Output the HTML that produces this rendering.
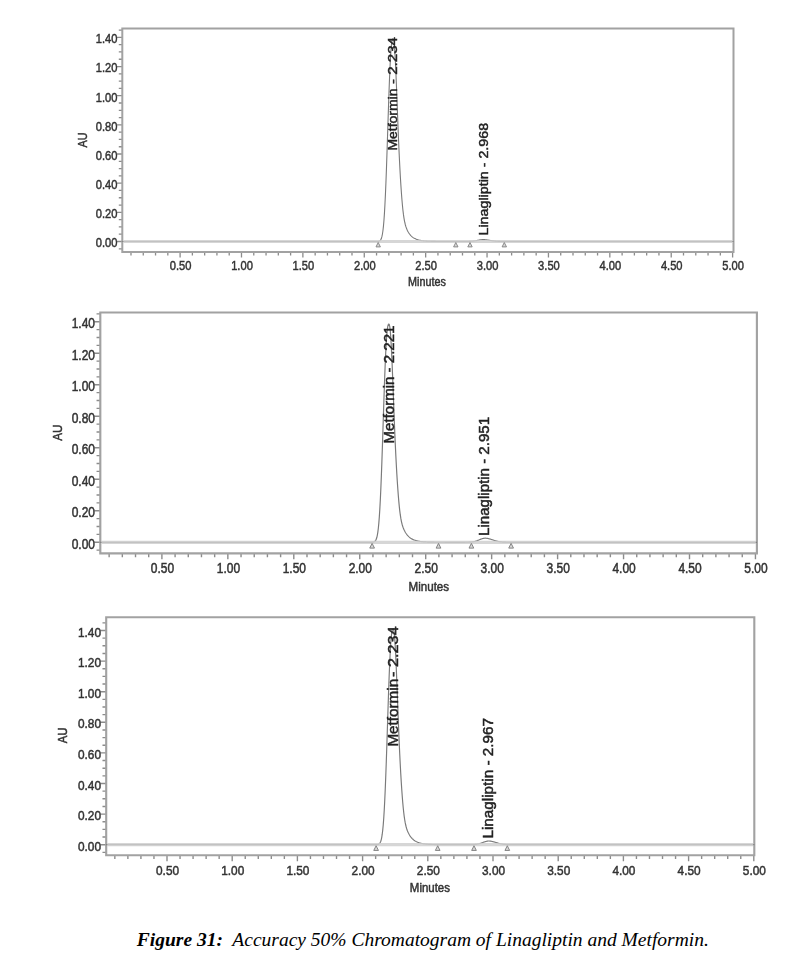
<!DOCTYPE html>
<html><head><meta charset="utf-8"><style>
html,body{margin:0;padding:0;background:#fff;}
svg{display:block;font-family:"Liberation Sans",sans-serif;filter:blur(0.6px);}
.cap{position:absolute;left:136.8px;top:928.5px;font-family:"Liberation Serif",serif;font-style:italic;font-size:19.5px;color:#000;white-space:pre;}
</style></head><body>
<svg width="793" height="965" viewBox="0 0 793 965">
<path d="M118.80 248.79H122.30M116.80 241.50H122.30M118.80 234.21H122.30M118.80 226.92H122.30M118.80 219.63H122.30M116.80 212.34H122.30M118.80 205.05H122.30M118.80 197.76H122.30M118.80 190.47H122.30M116.80 183.18H122.30M118.80 175.89H122.30M118.80 168.60H122.30M118.80 161.31H122.30M116.80 154.02H122.30M118.80 146.73H122.30M118.80 139.44H122.30M118.80 132.15H122.30M116.80 124.86H122.30M118.80 117.57H122.30M118.80 110.28H122.30M118.80 102.99H122.30M116.80 95.70H122.30M118.80 88.41H122.30M118.80 81.12H122.30M118.80 73.83H122.30M116.80 66.54H122.30M118.80 59.25H122.30M118.80 51.96H122.30M118.80 44.67H122.30M116.80 37.38H122.30M118.80 30.09H122.30M130.99 252.00V255.50M143.27 252.00V255.50M155.54 252.00V255.50M167.82 252.00V255.50M180.10 252.00V257.50M192.38 252.00V255.50M204.66 252.00V255.50M216.93 252.00V255.50M229.21 252.00V255.50M241.49 252.00V257.50M253.77 252.00V255.50M266.05 252.00V255.50M278.32 252.00V255.50M290.60 252.00V255.50M302.88 252.00V257.50M315.16 252.00V255.50M327.44 252.00V255.50M339.71 252.00V255.50M351.99 252.00V255.50M364.27 252.00V257.50M376.55 252.00V255.50M388.83 252.00V255.50M401.10 252.00V255.50M413.38 252.00V255.50M425.66 252.00V257.50M437.94 252.00V255.50M450.22 252.00V255.50M462.49 252.00V255.50M474.77 252.00V255.50M487.05 252.00V257.50M499.33 252.00V255.50M511.61 252.00V255.50M523.88 252.00V255.50M536.16 252.00V255.50M548.44 252.00V257.50M560.72 252.00V255.50M573.00 252.00V255.50M585.27 252.00V255.50M597.55 252.00V255.50M609.83 252.00V257.50M622.11 252.00V255.50M634.39 252.00V255.50M646.66 252.00V255.50M658.94 252.00V255.50M671.22 252.00V257.50M683.50 252.00V255.50M695.78 252.00V255.50M708.05 252.00V255.50M720.33 252.00V255.50M732.61 252.00V257.50" stroke="#8c8c8c" stroke-width="1.30" fill="none"/>
<path d="M122.30 252.00V28.40H733.50V252.00Z" fill="none" stroke="#a2a2a2" stroke-width="2.00"/>
<g font-size="11.50" fill="#333" stroke="#333" stroke-width="0.42"><text transform="translate(117.40,247.30) scale(0.97,1.12)" text-anchor="end">0.00</text><text transform="translate(117.40,218.14) scale(0.97,1.12)" text-anchor="end">0.20</text><text transform="translate(117.40,188.98) scale(0.97,1.12)" text-anchor="end">0.40</text><text transform="translate(117.40,159.82) scale(0.97,1.12)" text-anchor="end">0.60</text><text transform="translate(117.40,130.66) scale(0.97,1.12)" text-anchor="end">0.80</text><text transform="translate(117.40,101.50) scale(0.97,1.12)" text-anchor="end">1.00</text><text transform="translate(117.40,72.34) scale(0.97,1.12)" text-anchor="end">1.20</text><text transform="translate(117.40,43.18) scale(0.97,1.12)" text-anchor="end">1.40</text><text transform="translate(180.60,270.20) scale(0.97,1.12)" text-anchor="middle">0.50</text><text transform="translate(241.99,270.20) scale(0.97,1.12)" text-anchor="middle">1.00</text><text transform="translate(303.38,270.20) scale(0.97,1.12)" text-anchor="middle">1.50</text><text transform="translate(364.77,270.20) scale(0.97,1.12)" text-anchor="middle">2.00</text><text transform="translate(426.16,270.20) scale(0.97,1.12)" text-anchor="middle">2.50</text><text transform="translate(487.55,270.20) scale(0.97,1.12)" text-anchor="middle">3.00</text><text transform="translate(548.94,270.20) scale(0.97,1.12)" text-anchor="middle">3.50</text><text transform="translate(610.33,270.20) scale(0.97,1.12)" text-anchor="middle">4.00</text><text transform="translate(671.72,270.20) scale(0.97,1.12)" text-anchor="middle">4.50</text><text transform="translate(733.11,270.20) scale(0.97,1.12)" text-anchor="middle">5.00</text><text transform="translate(86.60,140.00) rotate(-90) scale(1,1.12)" text-anchor="middle" font-size="10.80">AU</text><text transform="translate(427.00,286.40) scale(1,1.12)" text-anchor="middle" font-size="10.80">Minutes</text></g>
<path d="M122.3 241.50 L122.8 241.50 L123.3 241.50 L123.8 241.50 L124.3 241.50 L124.8 241.50 L125.3 241.50 L125.8 241.50 L126.3 241.50 L126.8 241.50 L127.3 241.50 L127.8 241.50 L128.3 241.50 L128.8 241.50 L129.3 241.50 L129.8 241.50 L130.3 241.50 L130.8 241.50 L131.3 241.50 L131.8 241.50 L132.3 241.50 L132.8 241.50 L133.3 241.50 L133.8 241.50 L134.3 241.50 L134.8 241.50 L135.3 241.50 L135.8 241.50 L136.3 241.50 L136.8 241.50 L137.3 241.50 L137.8 241.50 L138.3 241.50 L138.8 241.50 L139.3 241.50 L139.8 241.50 L140.3 241.50 L140.8 241.50 L141.3 241.50 L141.8 241.50 L142.3 241.50 L142.8 241.50 L143.3 241.50 L143.8 241.50 L144.3 241.50 L144.8 241.50 L145.3 241.50 L145.8 241.50 L146.3 241.50 L146.8 241.50 L147.3 241.50 L147.8 241.50 L148.3 241.50 L148.8 241.50 L149.3 241.50 L149.8 241.50 L150.3 241.50 L150.8 241.50 L151.3 241.50 L151.8 241.50 L152.3 241.50 L152.8 241.50 L153.3 241.50 L153.8 241.50 L154.3 241.50 L154.8 241.50 L155.3 241.50 L155.8 241.50 L156.3 241.50 L156.8 241.50 L157.3 241.50 L157.8 241.50 L158.3 241.50 L158.8 241.50 L159.3 241.50 L159.8 241.50 L160.3 241.50 L160.8 241.50 L161.3 241.50 L161.8 241.50 L162.3 241.50 L162.8 241.50 L163.3 241.50 L163.8 241.50 L164.3 241.50 L164.8 241.50 L165.3 241.50 L165.8 241.50 L166.3 241.50 L166.8 241.50 L167.3 241.50 L167.8 241.50 L168.3 241.50 L168.8 241.50 L169.3 241.50 L169.8 241.50 L170.3 241.50 L170.8 241.50 L171.3 241.50 L171.8 241.50 L172.3 241.50 L172.8 241.50 L173.3 241.50 L173.8 241.50 L174.3 241.50 L174.8 241.50 L175.3 241.50 L175.8 241.50 L176.3 241.50 L176.8 241.50 L177.3 241.50 L177.8 241.50 L178.3 241.50 L178.8 241.50 L179.3 241.50 L179.8 241.50 L180.3 241.50 L180.8 241.50 L181.3 241.50 L181.8 241.50 L182.3 241.50 L182.8 241.50 L183.3 241.50 L183.8 241.50 L184.3 241.50 L184.8 241.50 L185.3 241.50 L185.8 241.50 L186.3 241.50 L186.8 241.50 L187.3 241.50 L187.8 241.50 L188.3 241.50 L188.8 241.50 L189.3 241.50 L189.8 241.50 L190.3 241.50 L190.8 241.50 L191.3 241.50 L191.8 241.50 L192.3 241.50 L192.8 241.50 L193.3 241.50 L193.8 241.50 L194.3 241.50 L194.8 241.50 L195.3 241.50 L195.8 241.50 L196.3 241.50 L196.8 241.50 L197.3 241.50 L197.8 241.50 L198.3 241.50 L198.8 241.50 L199.3 241.50 L199.8 241.50 L200.3 241.50 L200.8 241.50 L201.3 241.50 L201.8 241.50 L202.3 241.50 L202.8 241.50 L203.3 241.50 L203.8 241.50 L204.3 241.50 L204.8 241.50 L205.3 241.50 L205.8 241.50 L206.3 241.50 L206.8 241.50 L207.3 241.50 L207.8 241.50 L208.3 241.50 L208.8 241.50 L209.3 241.50 L209.8 241.50 L210.3 241.50 L210.8 241.50 L211.3 241.50 L211.8 241.50 L212.3 241.50 L212.8 241.50 L213.3 241.50 L213.8 241.50 L214.3 241.50 L214.8 241.50 L215.3 241.50 L215.8 241.50 L216.3 241.50 L216.8 241.50 L217.3 241.50 L217.8 241.50 L218.3 241.50 L218.8 241.50 L219.3 241.50 L219.8 241.50 L220.3 241.50 L220.8 241.50 L221.3 241.50 L221.8 241.50 L222.3 241.50 L222.8 241.50 L223.3 241.50 L223.8 241.50 L224.3 241.50 L224.8 241.50 L225.3 241.50 L225.8 241.50 L226.3 241.50 L226.8 241.50 L227.3 241.50 L227.8 241.50 L228.3 241.50 L228.8 241.50 L229.3 241.50 L229.8 241.50 L230.3 241.50 L230.8 241.50 L231.3 241.50 L231.8 241.50 L232.3 241.50 L232.8 241.50 L233.3 241.50 L233.8 241.50 L234.3 241.50 L234.8 241.50 L235.3 241.50 L235.8 241.50 L236.3 241.50 L236.8 241.50 L237.3 241.50 L237.8 241.50 L238.3 241.50 L238.8 241.50 L239.3 241.50 L239.8 241.50 L240.3 241.50 L240.8 241.50 L241.3 241.50 L241.8 241.50 L242.3 241.50 L242.8 241.50 L243.3 241.50 L243.8 241.50 L244.3 241.50 L244.8 241.50 L245.3 241.50 L245.8 241.50 L246.3 241.50 L246.8 241.50 L247.3 241.50 L247.8 241.50 L248.3 241.50 L248.8 241.50 L249.3 241.50 L249.8 241.50 L250.3 241.50 L250.8 241.50 L251.3 241.50 L251.8 241.50 L252.3 241.50 L252.8 241.50 L253.3 241.50 L253.8 241.50 L254.3 241.50 L254.8 241.50 L255.3 241.50 L255.8 241.50 L256.3 241.50 L256.8 241.50 L257.3 241.50 L257.8 241.50 L258.3 241.50 L258.8 241.50 L259.3 241.50 L259.8 241.50 L260.3 241.50 L260.8 241.50 L261.3 241.50 L261.8 241.50 L262.3 241.50 L262.8 241.50 L263.3 241.50 L263.8 241.50 L264.3 241.50 L264.8 241.50 L265.3 241.50 L265.8 241.50 L266.3 241.50 L266.8 241.50 L267.3 241.50 L267.8 241.50 L268.3 241.50 L268.8 241.50 L269.3 241.50 L269.8 241.50 L270.3 241.50 L270.8 241.50 L271.3 241.50 L271.8 241.50 L272.3 241.50 L272.8 241.50 L273.3 241.50 L273.8 241.50 L274.3 241.50 L274.8 241.50 L275.4 241.50 L275.9 241.50 L276.4 241.50 L276.9 241.50 L277.4 241.50 L277.9 241.50 L278.4 241.50 L278.9 241.50 L279.4 241.50 L279.9 241.50 L280.4 241.50 L280.9 241.50 L281.4 241.50 L281.9 241.50 L282.4 241.50 L282.9 241.50 L283.4 241.50 L283.9 241.50 L284.4 241.50 L284.9 241.50 L285.4 241.50 L285.9 241.50 L286.4 241.50 L286.9 241.50 L287.4 241.50 L287.9 241.50 L288.4 241.50 L288.9 241.50 L289.4 241.50 L289.9 241.50 L290.4 241.50 L290.9 241.50 L291.4 241.50 L291.9 241.50 L292.4 241.50 L292.9 241.50 L293.4 241.50 L293.9 241.50 L294.4 241.50 L294.9 241.50 L295.4 241.50 L295.9 241.50 L296.4 241.50 L296.9 241.50 L297.4 241.50 L297.9 241.50 L298.4 241.50 L298.9 241.50 L299.4 241.50 L299.9 241.50 L300.4 241.50 L300.9 241.50 L301.4 241.50 L301.9 241.50 L302.4 241.50 L302.9 241.50 L303.4 241.50 L303.9 241.50 L304.4 241.50 L304.9 241.50 L305.4 241.50 L305.9 241.50 L306.4 241.50 L306.9 241.50 L307.4 241.50 L307.9 241.50 L308.4 241.50 L308.9 241.50 L309.4 241.50 L309.9 241.50 L310.4 241.50 L310.9 241.50 L311.4 241.50 L311.9 241.50 L312.4 241.50 L312.9 241.50 L313.4 241.50 L313.9 241.50 L314.4 241.50 L314.9 241.50 L315.4 241.50 L315.9 241.50 L316.4 241.50 L316.9 241.50 L317.4 241.50 L317.9 241.50 L318.4 241.50 L318.9 241.50 L319.4 241.50 L319.9 241.50 L320.4 241.50 L320.9 241.50 L321.4 241.50 L321.9 241.50 L322.4 241.50 L322.9 241.50 L323.4 241.50 L323.9 241.50 L324.4 241.50 L324.9 241.50 L325.4 241.50 L325.9 241.50 L326.4 241.50 L326.9 241.50 L327.4 241.50 L327.9 241.50 L328.4 241.50 L328.9 241.50 L329.4 241.50 L329.9 241.50 L330.4 241.50 L330.9 241.50 L331.4 241.50 L331.9 241.50 L332.4 241.50 L332.9 241.50 L333.4 241.50 L333.9 241.50 L334.4 241.50 L334.9 241.50 L335.4 241.50 L335.9 241.50 L336.4 241.50 L336.9 241.50 L337.4 241.50 L337.9 241.50 L338.4 241.50 L338.9 241.50 L339.4 241.50 L339.9 241.50 L340.4 241.50 L340.9 241.50 L341.4 241.50 L341.9 241.50 L342.4 241.50 L342.9 241.50 L343.4 241.50 L343.9 241.50 L344.4 241.50 L344.9 241.50 L345.4 241.50 L345.9 241.50 L346.4 241.50 L346.9 241.50 L347.4 241.50 L347.9 241.50 L348.4 241.50 L348.9 241.50 L349.4 241.50 L349.9 241.50 L350.4 241.50 L350.9 241.50 L351.4 241.50 L351.9 241.50 L352.4 241.50 L352.9 241.50 L353.4 241.50 L353.9 241.50 L354.4 241.50 L354.9 241.50 L355.4 241.50 L355.9 241.50 L356.4 241.50 L356.9 241.50 L357.4 241.50 L357.9 241.50 L358.4 241.50 L358.9 241.50 L359.4 241.50 L359.9 241.50 L360.4 241.50 L360.9 241.50 L361.4 241.50 L361.9 241.50 L362.4 241.50 L362.9 241.50 L363.4 241.50 L363.9 241.50 L364.4 241.50 L364.9 241.50 L365.4 241.50 L365.9 241.50 L366.4 241.50 L366.9 241.50 L367.4 241.50 L367.9 241.50 L368.4 241.50 L368.9 241.50 L369.4 241.50 L369.9 241.50 L370.4 241.50 L370.9 241.50 L371.4 241.50 L371.9 241.50 L372.4 241.50 L372.9 241.50 L373.4 241.50 L373.9 241.50 L374.4 241.50 L374.9 241.50 L375.4 241.50 L375.9 241.50 L376.4 241.49 L376.9 241.48 L377.4 241.46 L377.9 241.43 L378.4 241.37 L378.9 241.26 L379.4 241.07 L379.9 240.76 L380.4 240.26 L380.9 239.49 L381.4 238.34 L381.9 236.65 L382.4 234.27 L382.9 231.00 L383.4 226.64 L383.9 221.00 L384.4 213.91 L384.9 205.25 L385.4 194.99 L385.9 183.16 L386.4 169.93 L386.9 155.55 L387.4 140.39 L387.9 124.89 L388.4 109.54 L388.9 94.86 L389.4 81.31 L389.9 69.32 L390.4 59.21 L390.9 51.18 L391.4 45.28 L391.9 41.45 L392.4 39.44 L392.9 38.85 L393.4 39.24 L393.9 41.45 L394.4 45.94 L394.9 52.76 L395.4 61.73 L395.9 72.53 L396.4 84.68 L396.9 97.65 L397.4 110.92 L397.9 123.98 L398.4 136.47 L398.9 148.12 L399.4 158.82 L399.9 168.57 L400.4 177.41 L400.9 185.44 L401.4 192.70 L401.9 199.21 L402.4 204.96 L402.9 209.94 L403.4 214.17 L403.9 217.69 L404.4 220.60 L404.9 222.99 L405.4 224.98 L405.9 226.66 L406.4 228.09 L406.9 229.33 L407.4 230.43 L407.9 231.40 L408.4 232.28 L408.9 233.08 L409.4 233.80 L409.9 234.46 L410.4 235.06 L410.9 235.61 L411.4 236.11 L411.9 236.57 L412.4 236.99 L412.9 237.37 L413.4 237.72 L413.9 238.04 L414.4 238.34 L414.9 238.61 L415.4 238.85 L415.9 239.08 L416.4 239.28 L416.9 239.47 L417.4 239.65 L417.9 239.80 L418.4 239.95 L418.9 240.08 L419.4 240.20 L419.9 240.31 L420.4 240.41 L420.9 240.51 L421.4 240.59 L421.9 240.67 L422.4 240.74 L422.9 240.80 L423.4 240.86 L423.9 240.92 L424.4 240.97 L424.9 241.01 L425.4 241.05 L425.9 241.09 L426.4 241.13 L426.9 241.16 L427.4 241.19 L427.9 241.21 L428.4 241.24 L428.9 241.26 L429.4 241.28 L429.9 241.30 L430.4 241.32 L430.9 241.33 L431.4 241.35 L431.9 241.36 L432.4 241.37 L432.9 241.38 L433.4 241.39 L433.9 241.40 L434.4 241.41 L434.9 241.42 L435.4 241.42 L435.9 241.43 L436.4 241.44 L436.9 241.44 L437.4 241.45 L437.9 241.45 L438.4 241.46 L438.9 241.46 L439.4 241.46 L439.9 241.47 L440.4 241.47 L440.9 241.47 L441.4 241.47 L441.9 241.48 L442.4 241.48 L442.9 241.48 L443.4 241.48 L443.9 241.48 L444.4 241.48 L444.9 241.49 L445.4 241.49 L445.9 241.49 L446.4 241.49 L446.9 241.49 L447.4 241.49 L447.9 241.49 L448.4 241.49 L448.9 241.49 L449.4 241.49 L449.9 241.49 L450.4 241.49 L450.9 241.50 L451.4 241.50 L451.9 241.50 L452.4 241.50 L452.9 241.50 L453.4 241.50 L453.9 241.50 L454.4 241.50 L454.9 241.50 L455.4 241.50 L455.9 241.50 L456.4 241.50 L456.9 241.50 L457.4 241.50 L457.9 241.50 L458.4 241.50 L458.9 241.50 L459.4 241.50 L459.9 241.50 L460.4 241.50 L460.9 241.50 L461.4 241.50 L461.9 241.50 L462.4 241.50 L462.9 241.50 L463.4 241.50 L463.9 241.50 L464.4 241.49 L464.9 241.49 L465.4 241.49 L465.9 241.48 L466.4 241.48 L466.9 241.47 L467.4 241.47 L467.9 241.46 L468.4 241.44 L468.9 241.43 L469.4 241.41 L469.9 241.39 L470.4 241.37 L470.9 241.33 L471.4 241.30 L471.9 241.26 L472.4 241.21 L472.9 241.16 L473.4 241.09 L473.9 241.03 L474.4 240.95 L474.9 240.87 L475.4 240.78 L475.9 240.69 L476.4 240.59 L476.9 240.49 L477.4 240.39 L477.9 240.28 L478.4 240.18 L478.9 240.08 L479.4 239.99 L479.9 239.90 L480.4 239.82 L480.9 239.75 L481.4 239.69 L481.9 239.65 L482.4 239.62 L482.9 239.61 L483.4 239.61 L483.9 239.62 L484.4 239.64 L484.9 239.67 L485.4 239.71 L485.9 239.76 L486.4 239.82 L486.9 239.88 L487.4 239.95 L487.9 240.03 L488.4 240.11 L488.9 240.19 L489.4 240.27 L489.9 240.36 L490.4 240.44 L490.9 240.53 L491.4 240.61 L491.9 240.69 L492.4 240.77 L492.9 240.84 L493.4 240.91 L493.9 240.97 L494.4 241.03 L494.9 241.09 L495.4 241.14 L495.9 241.19 L496.4 241.23 L496.9 241.27 L497.4 241.30 L497.9 241.33 L498.4 241.35 L498.9 241.38 L499.4 241.40 L499.9 241.41 L500.4 241.43 L500.9 241.44 L501.4 241.45 L501.9 241.46 L502.4 241.47 L502.9 241.47 L503.4 241.48 L503.9 241.48 L504.4 241.49 L504.9 241.49 L505.4 241.49 L505.9 241.49 L506.4 241.50 L506.9 241.50 L507.4 241.50 L507.9 241.50 L508.4 241.50 L508.9 241.50 L509.4 241.50 L509.9 241.50 L510.4 241.50 L510.9 241.50 L511.4 241.50 L511.9 241.50 L512.4 241.50 L512.9 241.50 L513.4 241.50 L513.9 241.50 L514.4 241.50 L514.9 241.50 L515.4 241.50 L515.9 241.50 L516.4 241.50 L516.9 241.50 L517.4 241.50 L517.9 241.50 L518.4 241.50 L518.9 241.50 L519.4 241.50 L519.9 241.50 L520.4 241.50 L520.9 241.50 L521.4 241.50 L521.9 241.50 L522.4 241.50 L522.9 241.50 L523.4 241.50 L523.9 241.50 L524.4 241.50 L524.9 241.50 L525.4 241.50 L525.9 241.50 L526.4 241.50 L526.9 241.50 L527.4 241.50 L527.9 241.50 L528.4 241.50 L528.9 241.50 L529.4 241.50 L529.9 241.50 L530.4 241.50 L530.9 241.50 L531.4 241.50 L531.9 241.50 L532.4 241.50 L532.9 241.50 L533.4 241.50 L533.9 241.50 L534.4 241.50 L534.9 241.50 L535.4 241.50 L535.9 241.50 L536.4 241.50 L536.9 241.50 L537.4 241.50 L537.9 241.50 L538.4 241.50 L538.9 241.50 L539.4 241.50 L539.9 241.50 L540.4 241.50 L540.9 241.50 L541.4 241.50 L541.9 241.50 L542.4 241.50 L542.9 241.50 L543.4 241.50 L543.9 241.50 L544.4 241.50 L544.9 241.50 L545.4 241.50 L545.9 241.50 L546.4 241.50 L546.9 241.50 L547.4 241.50 L547.9 241.50 L548.4 241.50 L548.9 241.50 L549.4 241.50 L549.9 241.50 L550.4 241.50 L550.9 241.50 L551.4 241.50 L551.9 241.50 L552.4 241.50 L552.9 241.50 L553.4 241.50 L553.9 241.50 L554.4 241.50 L554.9 241.50 L555.4 241.50 L555.9 241.50 L556.4 241.50 L556.9 241.50 L557.4 241.50 L557.9 241.50 L558.4 241.50 L558.9 241.50 L559.4 241.50 L559.9 241.50 L560.4 241.50 L560.9 241.50 L561.4 241.50 L561.9 241.50 L562.4 241.50 L562.9 241.50 L563.4 241.50 L563.9 241.50 L564.4 241.50 L564.9 241.50 L565.4 241.50 L565.9 241.50 L566.4 241.50 L566.9 241.50 L567.4 241.50 L567.9 241.50 L568.4 241.50 L568.9 241.50 L569.4 241.50 L569.9 241.50 L570.4 241.50 L570.9 241.50 L571.4 241.50 L571.9 241.50 L572.4 241.50 L572.9 241.50 L573.4 241.50 L573.9 241.50 L574.4 241.50 L574.9 241.50 L575.4 241.50 L575.9 241.50 L576.4 241.50 L576.9 241.50 L577.4 241.50 L577.9 241.50 L578.4 241.50 L578.9 241.50 L579.4 241.50 L579.9 241.50 L580.4 241.50 L581.0 241.50 L581.5 241.50 L582.0 241.50 L582.5 241.50 L583.0 241.50 L583.5 241.50 L584.0 241.50 L584.5 241.50 L585.0 241.50 L585.5 241.50 L586.0 241.50 L586.5 241.50 L587.0 241.50 L587.5 241.50 L588.0 241.50 L588.5 241.50 L589.0 241.50 L589.5 241.50 L590.0 241.50 L590.5 241.50 L591.0 241.50 L591.5 241.50 L592.0 241.50 L592.5 241.50 L593.0 241.50 L593.5 241.50 L594.0 241.50 L594.5 241.50 L595.0 241.50 L595.5 241.50 L596.0 241.50 L596.5 241.50 L597.0 241.50 L597.5 241.50 L598.0 241.50 L598.5 241.50 L599.0 241.50 L599.5 241.50 L600.0 241.50 L600.5 241.50 L601.0 241.50 L601.5 241.50 L602.0 241.50 L602.5 241.50 L603.0 241.50 L603.5 241.50 L604.0 241.50 L604.5 241.50 L605.0 241.50 L605.5 241.50 L606.0 241.50 L606.5 241.50 L607.0 241.50 L607.5 241.50 L608.0 241.50 L608.5 241.50 L609.0 241.50 L609.5 241.50 L610.0 241.50 L610.5 241.50 L611.0 241.50 L611.5 241.50 L612.0 241.50 L612.5 241.50 L613.0 241.50 L613.5 241.50 L614.0 241.50 L614.5 241.50 L615.0 241.50 L615.5 241.50 L616.0 241.50 L616.5 241.50 L617.0 241.50 L617.5 241.50 L618.0 241.50 L618.5 241.50 L619.0 241.50 L619.5 241.50 L620.0 241.50 L620.5 241.50 L621.0 241.50 L621.5 241.50 L622.0 241.50 L622.5 241.50 L623.0 241.50 L623.5 241.50 L624.0 241.50 L624.5 241.50 L625.0 241.50 L625.5 241.50 L626.0 241.50 L626.5 241.50 L627.0 241.50 L627.5 241.50 L628.0 241.50 L628.5 241.50 L629.0 241.50 L629.5 241.50 L630.0 241.50 L630.5 241.50 L631.0 241.50 L631.5 241.50 L632.0 241.50 L632.5 241.50 L633.0 241.50 L633.5 241.50 L634.0 241.50 L634.5 241.50 L635.0 241.50 L635.5 241.50 L636.0 241.50 L636.5 241.50 L637.0 241.50 L637.5 241.50 L638.0 241.50 L638.5 241.50 L639.0 241.50 L639.5 241.50 L640.0 241.50 L640.5 241.50 L641.0 241.50 L641.5 241.50 L642.0 241.50 L642.5 241.50 L643.0 241.50 L643.5 241.50 L644.0 241.50 L644.5 241.50 L645.0 241.50 L645.5 241.50 L646.0 241.50 L646.5 241.50 L647.0 241.50 L647.5 241.50 L648.0 241.50 L648.5 241.50 L649.0 241.50 L649.5 241.50 L650.0 241.50 L650.5 241.50 L651.0 241.50 L651.5 241.50 L652.0 241.50 L652.5 241.50 L653.0 241.50 L653.5 241.50 L654.0 241.50 L654.5 241.50 L655.0 241.50 L655.5 241.50 L656.0 241.50 L656.5 241.50 L657.0 241.50 L657.5 241.50 L658.0 241.50 L658.5 241.50 L659.0 241.50 L659.5 241.50 L660.0 241.50 L660.5 241.50 L661.0 241.50 L661.5 241.50 L662.0 241.50 L662.5 241.50 L663.0 241.50 L663.5 241.50 L664.0 241.50 L664.5 241.50 L665.0 241.50 L665.5 241.50 L666.0 241.50 L666.5 241.50 L667.0 241.50 L667.5 241.50 L668.0 241.50 L668.5 241.50 L669.0 241.50 L669.5 241.50 L670.0 241.50 L670.5 241.50 L671.0 241.50 L671.5 241.50 L672.0 241.50 L672.5 241.50 L673.0 241.50 L673.5 241.50 L674.0 241.50 L674.5 241.50 L675.0 241.50 L675.5 241.50 L676.0 241.50 L676.5 241.50 L677.0 241.50 L677.5 241.50 L678.0 241.50 L678.5 241.50 L679.0 241.50 L679.5 241.50 L680.0 241.50 L680.5 241.50 L681.0 241.50 L681.5 241.50 L682.0 241.50 L682.5 241.50 L683.0 241.50 L683.5 241.50 L684.0 241.50 L684.5 241.50 L685.0 241.50 L685.5 241.50 L686.0 241.50 L686.5 241.50 L687.0 241.50 L687.5 241.50 L688.0 241.50 L688.5 241.50 L689.0 241.50 L689.5 241.50 L690.0 241.50 L690.5 241.50 L691.0 241.50 L691.5 241.50 L692.0 241.50 L692.5 241.50 L693.0 241.50 L693.5 241.50 L694.0 241.50 L694.5 241.50 L695.0 241.50 L695.5 241.50 L696.0 241.50 L696.5 241.50 L697.0 241.50 L697.5 241.50 L698.0 241.50 L698.5 241.50 L699.0 241.50 L699.5 241.50 L700.0 241.50 L700.5 241.50 L701.0 241.50 L701.5 241.50 L702.0 241.50 L702.5 241.50 L703.0 241.50 L703.5 241.50 L704.0 241.50 L704.5 241.50 L705.0 241.50 L705.5 241.50 L706.0 241.50 L706.5 241.50 L707.0 241.50 L707.5 241.50 L708.0 241.50 L708.5 241.50 L709.0 241.50 L709.5 241.50 L710.0 241.50 L710.5 241.50 L711.0 241.50 L711.5 241.50 L712.0 241.50 L712.5 241.50 L713.0 241.50 L713.5 241.50 L714.0 241.50 L714.5 241.50 L715.0 241.50 L715.5 241.50 L716.0 241.50 L716.5 241.50 L717.0 241.50 L717.5 241.50 L718.0 241.50 L718.5 241.50 L719.0 241.50 L719.5 241.50 L720.0 241.50 L720.5 241.50 L721.0 241.50 L721.5 241.50 L722.0 241.50 L722.5 241.50 L723.0 241.50 L723.5 241.50 L724.0 241.50 L724.5 241.50 L725.0 241.50 L725.5 241.50 L726.0 241.50 L726.5 241.50 L727.0 241.50 L727.5 241.50 L728.0 241.50 L728.5 241.50 L729.0 241.50 L729.5 241.50 L730.0 241.50 L730.5 241.50 L731.0 241.50 L731.5 241.50 L732.0 241.50 L732.5 241.50 L733.0 241.50 L733.5 241.50" fill="none" stroke="#7a7a7a" stroke-width="1.10"/>
<path d="M123.30 241.50H732.50" stroke="#cfcfcf" stroke-width="3.00" stroke-opacity="0.85"/>
<path d="M378.20 242.50L376.00 246.90H380.40Z" fill="#d8d8d8" stroke="#808080" stroke-width="0.90" stroke-linejoin="round"/>
<path d="M455.80 242.50L453.60 246.90H458.00Z" fill="#d8d8d8" stroke="#808080" stroke-width="0.90" stroke-linejoin="round"/>
<path d="M470.00 242.50L467.80 246.90H472.20Z" fill="#d8d8d8" stroke="#808080" stroke-width="0.90" stroke-linejoin="round"/>
<path d="M504.30 242.50L502.10 246.90H506.50Z" fill="#d8d8d8" stroke="#808080" stroke-width="0.90" stroke-linejoin="round"/>
<text transform="translate(397.45,150.60) rotate(-90)" font-size="13.30" textLength="62.00" lengthAdjust="spacingAndGlyphs" fill="#222" stroke="#222" stroke-width="0.45">Metformin</text>
<text transform="translate(397.45,84.00) rotate(-90)" font-size="13.30" textLength="47.00" lengthAdjust="spacingAndGlyphs" fill="#222" stroke="#222" stroke-width="0.45">- 2.234</text>
<text transform="translate(487.55,235.50) rotate(-90)" font-size="13.30" textLength="112.60" lengthAdjust="spacingAndGlyphs" fill="#222" stroke="#222" stroke-width="0.45">Linagliptin - 2.968</text>
<path d="M96.54 550.17H100.30M94.39 542.30H100.30M96.54 534.42H100.30M96.54 526.55H100.30M96.54 518.67H100.30M94.39 510.80H100.30M96.54 502.92H100.30M96.54 495.05H100.30M96.54 487.17H100.30M94.39 479.30H100.30M96.54 471.42H100.30M96.54 463.55H100.30M96.54 455.67H100.30M94.39 447.80H100.30M96.54 439.92H100.30M96.54 432.05H100.30M96.54 424.17H100.30M94.39 416.30H100.30M96.54 408.42H100.30M96.54 400.55H100.30M96.54 392.67H100.30M94.39 384.80H100.30M96.54 376.92H100.30M96.54 369.05H100.30M96.54 361.17H100.30M94.39 353.30H100.30M96.54 345.42H100.30M96.54 337.55H100.30M96.54 329.67H100.30M94.39 321.80H100.30M96.54 313.92H100.30M109.14 553.40V557.16M122.33 553.40V557.16M135.52 553.40V557.16M148.71 553.40V557.16M161.90 553.40V559.31M175.09 553.40V557.16M188.28 553.40V557.16M201.47 553.40V557.16M214.66 553.40V557.16M227.85 553.40V559.31M241.04 553.40V557.16M254.23 553.40V557.16M267.42 553.40V557.16M280.61 553.40V557.16M293.80 553.40V559.31M306.99 553.40V557.16M320.18 553.40V557.16M333.37 553.40V557.16M346.56 553.40V557.16M359.75 553.40V559.31M372.94 553.40V557.16M386.13 553.40V557.16M399.32 553.40V557.16M412.51 553.40V557.16M425.70 553.40V559.31M438.89 553.40V557.16M452.08 553.40V557.16M465.27 553.40V557.16M478.46 553.40V557.16M491.65 553.40V559.31M504.84 553.40V557.16M518.03 553.40V557.16M531.22 553.40V557.16M544.41 553.40V557.16M557.60 553.40V559.31M570.79 553.40V557.16M583.98 553.40V557.16M597.17 553.40V557.16M610.36 553.40V557.16M623.55 553.40V559.31M636.74 553.40V557.16M649.93 553.40V557.16M663.12 553.40V557.16M676.31 553.40V557.16M689.50 553.40V559.31M702.69 553.40V557.16M715.88 553.40V557.16M729.07 553.40V557.16M742.26 553.40V557.16M755.45 553.40V559.31" stroke="#8c8c8c" stroke-width="1.40" fill="none"/>
<path d="M100.30 553.40V312.50H756.90V553.40Z" fill="none" stroke="#a2a2a2" stroke-width="2.15"/>
<g font-size="12.36" fill="#333" stroke="#333" stroke-width="0.45"><text transform="translate(95.03,548.53) scale(0.97,1.12)" text-anchor="end">0.00</text><text transform="translate(95.03,517.03) scale(0.97,1.12)" text-anchor="end">0.20</text><text transform="translate(95.03,485.53) scale(0.97,1.12)" text-anchor="end">0.40</text><text transform="translate(95.03,454.03) scale(0.97,1.12)" text-anchor="end">0.60</text><text transform="translate(95.03,422.53) scale(0.97,1.12)" text-anchor="end">0.80</text><text transform="translate(95.03,391.03) scale(0.97,1.12)" text-anchor="end">1.00</text><text transform="translate(95.03,359.53) scale(0.97,1.12)" text-anchor="end">1.20</text><text transform="translate(95.03,328.03) scale(0.97,1.12)" text-anchor="end">1.40</text><text transform="translate(162.44,572.96) scale(0.97,1.12)" text-anchor="middle">0.50</text><text transform="translate(228.39,572.96) scale(0.97,1.12)" text-anchor="middle">1.00</text><text transform="translate(294.34,572.96) scale(0.97,1.12)" text-anchor="middle">1.50</text><text transform="translate(360.29,572.96) scale(0.97,1.12)" text-anchor="middle">2.00</text><text transform="translate(426.24,572.96) scale(0.97,1.12)" text-anchor="middle">2.50</text><text transform="translate(492.19,572.96) scale(0.97,1.12)" text-anchor="middle">3.00</text><text transform="translate(558.14,572.96) scale(0.97,1.12)" text-anchor="middle">3.50</text><text transform="translate(624.09,572.96) scale(0.97,1.12)" text-anchor="middle">4.00</text><text transform="translate(690.04,572.96) scale(0.97,1.12)" text-anchor="middle">4.50</text><text transform="translate(755.99,572.96) scale(0.97,1.12)" text-anchor="middle">5.00</text><text transform="translate(62.07,432.60) rotate(-90) scale(1,1.12)" text-anchor="middle" font-size="11.61">AU</text><text transform="translate(428.80,591.19) scale(1,1.12)" text-anchor="middle" font-size="11.61">Minutes</text></g>
<path d="M100.3 542.30 L100.8 542.30 L101.3 542.30 L101.8 542.30 L102.3 542.30 L102.8 542.30 L103.3 542.30 L103.8 542.30 L104.3 542.30 L104.8 542.30 L105.3 542.30 L105.8 542.30 L106.3 542.30 L106.8 542.30 L107.3 542.30 L107.8 542.30 L108.3 542.30 L108.8 542.30 L109.3 542.30 L109.8 542.30 L110.3 542.30 L110.8 542.30 L111.3 542.30 L111.8 542.30 L112.3 542.30 L112.8 542.30 L113.3 542.30 L113.8 542.30 L114.3 542.30 L114.8 542.30 L115.3 542.30 L115.8 542.30 L116.3 542.30 L116.8 542.30 L117.3 542.30 L117.8 542.30 L118.3 542.30 L118.8 542.30 L119.3 542.30 L119.8 542.30 L120.3 542.30 L120.8 542.30 L121.3 542.30 L121.8 542.30 L122.3 542.30 L122.8 542.30 L123.3 542.30 L123.8 542.30 L124.3 542.30 L124.8 542.30 L125.3 542.30 L125.8 542.30 L126.3 542.30 L126.8 542.30 L127.3 542.30 L127.8 542.30 L128.3 542.30 L128.8 542.30 L129.3 542.30 L129.8 542.30 L130.3 542.30 L130.8 542.30 L131.3 542.30 L131.8 542.30 L132.3 542.30 L132.8 542.30 L133.3 542.30 L133.8 542.30 L134.3 542.30 L134.8 542.30 L135.3 542.30 L135.8 542.30 L136.3 542.30 L136.8 542.30 L137.3 542.30 L137.8 542.30 L138.3 542.30 L138.8 542.30 L139.3 542.30 L139.8 542.30 L140.3 542.30 L140.8 542.30 L141.3 542.30 L141.8 542.30 L142.3 542.30 L142.8 542.30 L143.3 542.30 L143.8 542.30 L144.3 542.30 L144.8 542.30 L145.3 542.30 L145.8 542.30 L146.3 542.30 L146.8 542.30 L147.3 542.30 L147.8 542.30 L148.3 542.30 L148.8 542.30 L149.3 542.30 L149.8 542.30 L150.3 542.30 L150.8 542.30 L151.3 542.30 L151.8 542.30 L152.3 542.30 L152.8 542.30 L153.3 542.30 L153.8 542.30 L154.3 542.30 L154.8 542.30 L155.3 542.30 L155.8 542.30 L156.3 542.30 L156.8 542.30 L157.3 542.30 L157.8 542.30 L158.3 542.30 L158.8 542.30 L159.3 542.30 L159.8 542.30 L160.3 542.30 L160.8 542.30 L161.3 542.30 L161.8 542.30 L162.3 542.30 L162.8 542.30 L163.3 542.30 L163.8 542.30 L164.3 542.30 L164.8 542.30 L165.3 542.30 L165.8 542.30 L166.3 542.30 L166.8 542.30 L167.3 542.30 L167.8 542.30 L168.3 542.30 L168.8 542.30 L169.3 542.30 L169.8 542.30 L170.3 542.30 L170.8 542.30 L171.3 542.30 L171.8 542.30 L172.3 542.30 L172.8 542.30 L173.3 542.30 L173.8 542.30 L174.3 542.30 L174.8 542.30 L175.3 542.30 L175.8 542.30 L176.3 542.30 L176.8 542.30 L177.3 542.30 L177.8 542.30 L178.3 542.30 L178.8 542.30 L179.3 542.30 L179.8 542.30 L180.3 542.30 L180.8 542.30 L181.3 542.30 L181.8 542.30 L182.3 542.30 L182.8 542.30 L183.3 542.30 L183.8 542.30 L184.3 542.30 L184.8 542.30 L185.3 542.30 L185.8 542.30 L186.3 542.30 L186.8 542.30 L187.3 542.30 L187.8 542.30 L188.3 542.30 L188.8 542.30 L189.3 542.30 L189.8 542.30 L190.3 542.30 L190.8 542.30 L191.3 542.30 L191.8 542.30 L192.3 542.30 L192.8 542.30 L193.3 542.30 L193.8 542.30 L194.3 542.30 L194.8 542.30 L195.3 542.30 L195.8 542.30 L196.3 542.30 L196.8 542.30 L197.3 542.30 L197.8 542.30 L198.3 542.30 L198.8 542.30 L199.3 542.30 L199.8 542.30 L200.3 542.30 L200.8 542.30 L201.3 542.30 L201.8 542.30 L202.3 542.30 L202.8 542.30 L203.3 542.30 L203.8 542.30 L204.3 542.30 L204.8 542.30 L205.3 542.30 L205.8 542.30 L206.3 542.30 L206.8 542.30 L207.3 542.30 L207.8 542.30 L208.3 542.30 L208.8 542.30 L209.3 542.30 L209.8 542.30 L210.3 542.30 L210.8 542.30 L211.3 542.30 L211.8 542.30 L212.3 542.30 L212.8 542.30 L213.3 542.30 L213.8 542.30 L214.3 542.30 L214.8 542.30 L215.3 542.30 L215.8 542.30 L216.3 542.30 L216.8 542.30 L217.3 542.30 L217.8 542.30 L218.3 542.30 L218.8 542.30 L219.3 542.30 L219.8 542.30 L220.3 542.30 L220.8 542.30 L221.3 542.30 L221.8 542.30 L222.3 542.30 L222.8 542.30 L223.3 542.30 L223.8 542.30 L224.3 542.30 L224.8 542.30 L225.3 542.30 L225.8 542.30 L226.3 542.30 L226.8 542.30 L227.3 542.30 L227.8 542.30 L228.3 542.30 L228.8 542.30 L229.3 542.30 L229.8 542.30 L230.3 542.30 L230.8 542.30 L231.3 542.30 L231.8 542.30 L232.3 542.30 L232.8 542.30 L233.3 542.30 L233.8 542.30 L234.3 542.30 L234.8 542.30 L235.3 542.30 L235.8 542.30 L236.3 542.30 L236.8 542.30 L237.3 542.30 L237.8 542.30 L238.3 542.30 L238.8 542.30 L239.3 542.30 L239.8 542.30 L240.3 542.30 L240.8 542.30 L241.3 542.30 L241.8 542.30 L242.3 542.30 L242.8 542.30 L243.3 542.30 L243.8 542.30 L244.3 542.30 L244.8 542.30 L245.3 542.30 L245.8 542.30 L246.3 542.30 L246.8 542.30 L247.3 542.30 L247.8 542.30 L248.3 542.30 L248.8 542.30 L249.3 542.30 L249.8 542.30 L250.3 542.30 L250.8 542.30 L251.3 542.30 L251.8 542.30 L252.3 542.30 L252.8 542.30 L253.3 542.30 L253.8 542.30 L254.3 542.30 L254.8 542.30 L255.3 542.30 L255.8 542.30 L256.3 542.30 L256.8 542.30 L257.3 542.30 L257.8 542.30 L258.3 542.30 L258.8 542.30 L259.3 542.30 L259.8 542.30 L260.3 542.30 L260.8 542.30 L261.3 542.30 L261.8 542.30 L262.3 542.30 L262.8 542.30 L263.3 542.30 L263.8 542.30 L264.3 542.30 L264.8 542.30 L265.3 542.30 L265.8 542.30 L266.3 542.30 L266.8 542.30 L267.3 542.30 L267.8 542.30 L268.3 542.30 L268.8 542.30 L269.3 542.30 L269.8 542.30 L270.3 542.30 L270.8 542.30 L271.3 542.30 L271.8 542.30 L272.3 542.30 L272.8 542.30 L273.3 542.30 L273.8 542.30 L274.3 542.30 L274.8 542.30 L275.3 542.30 L275.8 542.30 L276.3 542.30 L276.8 542.30 L277.3 542.30 L277.8 542.30 L278.3 542.30 L278.8 542.30 L279.3 542.30 L279.8 542.30 L280.3 542.30 L280.8 542.30 L281.3 542.30 L281.8 542.30 L282.3 542.30 L282.8 542.30 L283.3 542.30 L283.8 542.30 L284.3 542.30 L284.8 542.30 L285.3 542.30 L285.8 542.30 L286.3 542.30 L286.8 542.30 L287.3 542.30 L287.8 542.30 L288.3 542.30 L288.8 542.30 L289.3 542.30 L289.8 542.30 L290.3 542.30 L290.8 542.30 L291.3 542.30 L291.8 542.30 L292.3 542.30 L292.8 542.30 L293.3 542.30 L293.8 542.30 L294.3 542.30 L294.8 542.30 L295.3 542.30 L295.8 542.30 L296.3 542.30 L296.8 542.30 L297.3 542.30 L297.8 542.30 L298.3 542.30 L298.8 542.30 L299.3 542.30 L299.8 542.30 L300.3 542.30 L300.8 542.30 L301.3 542.30 L301.8 542.30 L302.3 542.30 L302.8 542.30 L303.3 542.30 L303.8 542.30 L304.3 542.30 L304.8 542.30 L305.3 542.30 L305.8 542.30 L306.3 542.30 L306.8 542.30 L307.3 542.30 L307.8 542.30 L308.3 542.30 L308.8 542.30 L309.3 542.30 L309.8 542.30 L310.3 542.30 L310.8 542.30 L311.3 542.30 L311.8 542.30 L312.3 542.30 L312.8 542.30 L313.3 542.30 L313.8 542.30 L314.3 542.30 L314.8 542.30 L315.3 542.30 L315.8 542.30 L316.3 542.30 L316.8 542.30 L317.3 542.30 L317.8 542.30 L318.3 542.30 L318.8 542.30 L319.3 542.30 L319.8 542.30 L320.3 542.30 L320.8 542.30 L321.3 542.30 L321.8 542.30 L322.3 542.30 L322.8 542.30 L323.3 542.30 L323.8 542.30 L324.3 542.30 L324.8 542.30 L325.3 542.30 L325.8 542.30 L326.3 542.30 L326.8 542.30 L327.3 542.30 L327.8 542.30 L328.3 542.30 L328.8 542.30 L329.3 542.30 L329.8 542.30 L330.3 542.30 L330.8 542.30 L331.3 542.30 L331.8 542.30 L332.3 542.30 L332.8 542.30 L333.3 542.30 L333.8 542.30 L334.3 542.30 L334.8 542.30 L335.3 542.30 L335.8 542.30 L336.3 542.30 L336.8 542.30 L337.3 542.30 L337.8 542.30 L338.3 542.30 L338.8 542.30 L339.3 542.30 L339.8 542.30 L340.3 542.30 L340.8 542.30 L341.3 542.30 L341.8 542.30 L342.3 542.30 L342.8 542.30 L343.3 542.30 L343.8 542.30 L344.3 542.30 L344.8 542.30 L345.3 542.30 L345.8 542.30 L346.3 542.30 L346.8 542.30 L347.3 542.30 L347.8 542.30 L348.3 542.30 L348.8 542.30 L349.3 542.30 L349.8 542.30 L350.3 542.30 L350.8 542.30 L351.3 542.30 L351.8 542.30 L352.3 542.30 L352.8 542.30 L353.3 542.30 L353.8 542.30 L354.3 542.30 L354.8 542.30 L355.3 542.30 L355.8 542.30 L356.3 542.30 L356.8 542.30 L357.3 542.30 L357.8 542.30 L358.3 542.30 L358.8 542.30 L359.3 542.30 L359.8 542.30 L360.3 542.30 L360.8 542.30 L361.3 542.30 L361.8 542.30 L362.3 542.30 L362.8 542.30 L363.3 542.30 L363.8 542.30 L364.3 542.30 L364.8 542.30 L365.3 542.30 L365.8 542.30 L366.3 542.30 L366.8 542.30 L367.3 542.30 L367.8 542.30 L368.3 542.30 L368.8 542.30 L369.3 542.30 L369.8 542.30 L370.3 542.30 L370.8 542.29 L371.3 542.29 L371.8 542.27 L372.3 542.25 L372.8 542.20 L373.3 542.13 L373.8 542.00 L374.3 541.80 L374.8 541.47 L375.3 540.97 L375.8 540.22 L376.3 539.11 L376.8 537.53 L377.3 535.34 L377.8 532.37 L378.3 528.45 L378.8 523.42 L379.3 517.10 L379.8 509.38 L380.3 500.17 L380.8 489.47 L381.3 477.33 L381.8 463.92 L382.3 449.46 L382.8 434.28 L383.3 418.76 L383.8 403.32 L384.3 388.42 L384.8 374.47 L385.3 361.85 L385.8 350.88 L386.3 341.77 L386.8 334.65 L387.3 329.51 L387.8 326.24 L388.3 324.59 L388.8 324.16 L389.3 324.66 L389.8 326.91 L390.3 331.28 L390.8 337.83 L391.3 346.43 L391.8 356.81 L392.3 368.59 L392.8 381.32 L393.3 394.55 L393.8 407.80 L394.3 420.70 L394.8 432.96 L395.3 444.40 L395.8 454.94 L396.3 464.59 L396.8 473.42 L397.3 481.47 L397.8 488.82 L398.3 495.46 L398.8 501.40 L399.3 506.63 L399.8 511.13 L400.3 514.96 L400.8 518.18 L401.3 520.86 L401.8 523.10 L402.3 525.00 L402.8 526.62 L403.3 528.02 L403.8 529.25 L404.3 530.35 L404.8 531.33 L405.3 532.23 L405.8 533.04 L406.3 533.78 L406.8 534.46 L407.3 535.09 L407.8 535.66 L408.3 536.19 L408.8 536.67 L409.3 537.12 L409.8 537.53 L410.3 537.91 L410.8 538.26 L411.3 538.58 L411.8 538.88 L412.3 539.15 L412.8 539.40 L413.3 539.63 L413.8 539.84 L414.3 540.04 L414.8 540.22 L415.3 540.38 L415.8 540.53 L416.3 540.67 L416.8 540.80 L417.3 540.92 L417.8 541.03 L418.3 541.13 L418.8 541.23 L419.3 541.31 L419.8 541.39 L420.3 541.46 L420.8 541.53 L421.3 541.59 L421.8 541.65 L422.3 541.70 L422.8 541.75 L423.3 541.79 L423.8 541.83 L424.3 541.87 L424.8 541.90 L425.3 541.93 L425.8 541.96 L426.3 541.99 L426.8 542.01 L427.3 542.04 L427.8 542.06 L428.3 542.08 L428.9 542.09 L429.4 542.11 L429.9 542.13 L430.4 542.14 L430.9 542.15 L431.4 542.16 L431.9 542.18 L432.4 542.19 L432.9 542.19 L433.4 542.20 L433.9 542.21 L434.4 542.22 L434.9 542.22 L435.4 542.23 L435.9 542.24 L436.4 542.24 L436.9 542.25 L437.4 542.25 L437.9 542.25 L438.4 542.26 L438.9 542.26 L439.4 542.26 L439.9 542.27 L440.4 542.27 L440.9 542.27 L441.4 542.27 L441.9 542.28 L442.4 542.28 L442.9 542.28 L443.4 542.28 L443.9 542.28 L444.4 542.28 L444.9 542.29 L445.4 542.29 L445.9 542.29 L446.4 542.29 L446.9 542.29 L447.4 542.29 L447.9 542.29 L448.4 542.29 L448.9 542.29 L449.4 542.29 L449.9 542.29 L450.4 542.29 L450.9 542.29 L451.4 542.30 L451.9 542.30 L452.4 542.30 L452.9 542.30 L453.4 542.30 L453.9 542.30 L454.4 542.30 L454.9 542.30 L455.4 542.30 L455.9 542.30 L456.4 542.30 L456.9 542.30 L457.4 542.30 L457.9 542.30 L458.4 542.30 L458.9 542.30 L459.4 542.30 L459.9 542.30 L460.4 542.30 L460.9 542.30 L461.4 542.30 L461.9 542.30 L462.4 542.30 L462.9 542.30 L463.4 542.29 L463.9 542.29 L464.4 542.29 L464.9 542.29 L465.4 542.28 L465.9 542.28 L466.4 542.27 L466.9 542.26 L467.4 542.25 L467.9 542.24 L468.4 542.23 L468.9 542.21 L469.4 542.18 L469.9 542.15 L470.4 542.12 L470.9 542.08 L471.4 542.03 L471.9 541.97 L472.4 541.90 L472.9 541.83 L473.4 541.74 L473.9 541.64 L474.4 541.52 L474.9 541.40 L475.4 541.26 L475.9 541.11 L476.4 540.95 L476.9 540.77 L477.4 540.58 L477.9 540.39 L478.4 540.19 L478.9 539.98 L479.4 539.77 L479.9 539.56 L480.4 539.36 L480.9 539.16 L481.4 538.97 L481.9 538.80 L482.4 538.64 L482.9 538.51 L483.4 538.39 L483.9 538.31 L484.4 538.24 L484.9 538.21 L485.4 538.21 L485.9 538.22 L486.4 538.26 L486.9 538.31 L487.4 538.38 L487.9 538.47 L488.4 538.58 L488.9 538.70 L489.4 538.83 L489.9 538.97 L490.4 539.12 L490.9 539.28 L491.4 539.45 L491.9 539.62 L492.4 539.79 L492.9 539.96 L493.4 540.13 L493.9 540.30 L494.4 540.46 L494.9 540.62 L495.4 540.77 L495.9 540.91 L496.4 541.05 L496.9 541.18 L497.4 541.30 L497.9 541.41 L498.4 541.51 L498.9 541.61 L499.4 541.69 L499.9 541.77 L500.4 541.84 L500.9 541.90 L501.4 541.96 L501.9 542.01 L502.4 542.05 L502.9 542.09 L503.4 542.12 L503.9 542.15 L504.4 542.18 L504.9 542.20 L505.4 542.21 L505.9 542.23 L506.4 542.24 L506.9 542.25 L507.4 542.26 L507.9 542.27 L508.4 542.28 L508.9 542.28 L509.4 542.28 L509.9 542.29 L510.4 542.29 L510.9 542.29 L511.4 542.29 L511.9 542.30 L512.4 542.30 L512.9 542.30 L513.4 542.30 L513.9 542.30 L514.4 542.30 L514.9 542.30 L515.4 542.30 L515.9 542.30 L516.4 542.30 L516.9 542.30 L517.4 542.30 L517.9 542.30 L518.4 542.30 L518.9 542.30 L519.4 542.30 L519.9 542.30 L520.4 542.30 L520.9 542.30 L521.4 542.30 L521.9 542.30 L522.4 542.30 L522.9 542.30 L523.4 542.30 L523.9 542.30 L524.4 542.30 L524.9 542.30 L525.4 542.30 L525.9 542.30 L526.4 542.30 L526.9 542.30 L527.4 542.30 L527.9 542.30 L528.4 542.30 L528.9 542.30 L529.4 542.30 L529.9 542.30 L530.4 542.30 L530.9 542.30 L531.4 542.30 L531.9 542.30 L532.4 542.30 L532.9 542.30 L533.4 542.30 L533.9 542.30 L534.4 542.30 L534.9 542.30 L535.4 542.30 L535.9 542.30 L536.4 542.30 L536.9 542.30 L537.4 542.30 L537.9 542.30 L538.4 542.30 L538.9 542.30 L539.4 542.30 L539.9 542.30 L540.4 542.30 L540.9 542.30 L541.4 542.30 L541.9 542.30 L542.4 542.30 L542.9 542.30 L543.4 542.30 L543.9 542.30 L544.4 542.30 L544.9 542.30 L545.4 542.30 L545.9 542.30 L546.4 542.30 L546.9 542.30 L547.4 542.30 L547.9 542.30 L548.4 542.30 L548.9 542.30 L549.4 542.30 L549.9 542.30 L550.4 542.30 L550.9 542.30 L551.4 542.30 L551.9 542.30 L552.4 542.30 L552.9 542.30 L553.4 542.30 L553.9 542.30 L554.4 542.30 L554.9 542.30 L555.4 542.30 L555.9 542.30 L556.4 542.30 L556.9 542.30 L557.4 542.30 L557.9 542.30 L558.4 542.30 L558.9 542.30 L559.4 542.30 L559.9 542.30 L560.4 542.30 L560.9 542.30 L561.4 542.30 L561.9 542.30 L562.4 542.30 L562.9 542.30 L563.4 542.30 L563.9 542.30 L564.4 542.30 L564.9 542.30 L565.4 542.30 L565.9 542.30 L566.4 542.30 L566.9 542.30 L567.4 542.30 L567.9 542.30 L568.4 542.30 L568.9 542.30 L569.4 542.30 L569.9 542.30 L570.4 542.30 L570.9 542.30 L571.4 542.30 L571.9 542.30 L572.4 542.30 L572.9 542.30 L573.4 542.30 L573.9 542.30 L574.4 542.30 L574.9 542.30 L575.4 542.30 L575.9 542.30 L576.4 542.30 L576.9 542.30 L577.4 542.30 L577.9 542.30 L578.4 542.30 L578.9 542.30 L579.4 542.30 L579.9 542.30 L580.4 542.30 L580.9 542.30 L581.4 542.30 L581.9 542.30 L582.4 542.30 L582.9 542.30 L583.4 542.30 L583.9 542.30 L584.4 542.30 L584.9 542.30 L585.4 542.30 L585.9 542.30 L586.4 542.30 L586.9 542.30 L587.4 542.30 L587.9 542.30 L588.4 542.30 L588.9 542.30 L589.4 542.30 L589.9 542.30 L590.4 542.30 L590.9 542.30 L591.4 542.30 L591.9 542.30 L592.4 542.30 L592.9 542.30 L593.4 542.30 L593.9 542.30 L594.4 542.30 L594.9 542.30 L595.4 542.30 L595.9 542.30 L596.4 542.30 L596.9 542.30 L597.4 542.30 L597.9 542.30 L598.4 542.30 L598.9 542.30 L599.4 542.30 L599.9 542.30 L600.4 542.30 L600.9 542.30 L601.4 542.30 L601.9 542.30 L602.4 542.30 L602.9 542.30 L603.4 542.30 L603.9 542.30 L604.4 542.30 L604.9 542.30 L605.4 542.30 L605.9 542.30 L606.4 542.30 L606.9 542.30 L607.4 542.30 L607.9 542.30 L608.4 542.30 L608.9 542.30 L609.4 542.30 L609.9 542.30 L610.4 542.30 L610.9 542.30 L611.4 542.30 L611.9 542.30 L612.4 542.30 L612.9 542.30 L613.4 542.30 L613.9 542.30 L614.4 542.30 L614.9 542.30 L615.4 542.30 L615.9 542.30 L616.4 542.30 L616.9 542.30 L617.4 542.30 L617.9 542.30 L618.4 542.30 L618.9 542.30 L619.4 542.30 L619.9 542.30 L620.4 542.30 L620.9 542.30 L621.4 542.30 L621.9 542.30 L622.4 542.30 L622.9 542.30 L623.4 542.30 L623.9 542.30 L624.4 542.30 L624.9 542.30 L625.4 542.30 L625.9 542.30 L626.4 542.30 L626.9 542.30 L627.4 542.30 L627.9 542.30 L628.4 542.30 L628.9 542.30 L629.4 542.30 L629.9 542.30 L630.4 542.30 L630.9 542.30 L631.4 542.30 L631.9 542.30 L632.4 542.30 L632.9 542.30 L633.4 542.30 L633.9 542.30 L634.4 542.30 L634.9 542.30 L635.4 542.30 L635.9 542.30 L636.4 542.30 L636.9 542.30 L637.4 542.30 L637.9 542.30 L638.4 542.30 L638.9 542.30 L639.4 542.30 L639.9 542.30 L640.4 542.30 L640.9 542.30 L641.4 542.30 L641.9 542.30 L642.4 542.30 L642.9 542.30 L643.4 542.30 L643.9 542.30 L644.4 542.30 L644.9 542.30 L645.4 542.30 L645.9 542.30 L646.4 542.30 L646.9 542.30 L647.4 542.30 L647.9 542.30 L648.4 542.30 L648.9 542.30 L649.4 542.30 L649.9 542.30 L650.4 542.30 L650.9 542.30 L651.4 542.30 L651.9 542.30 L652.4 542.30 L652.9 542.30 L653.4 542.30 L653.9 542.30 L654.4 542.30 L654.9 542.30 L655.4 542.30 L655.9 542.30 L656.4 542.30 L656.9 542.30 L657.4 542.30 L657.9 542.30 L658.4 542.30 L658.9 542.30 L659.4 542.30 L659.9 542.30 L660.4 542.30 L660.9 542.30 L661.4 542.30 L661.9 542.30 L662.4 542.30 L662.9 542.30 L663.4 542.30 L663.9 542.30 L664.4 542.30 L664.9 542.30 L665.4 542.30 L665.9 542.30 L666.4 542.30 L666.9 542.30 L667.4 542.30 L667.9 542.30 L668.4 542.30 L668.9 542.30 L669.4 542.30 L669.9 542.30 L670.4 542.30 L670.9 542.30 L671.4 542.30 L671.9 542.30 L672.4 542.30 L672.9 542.30 L673.4 542.30 L673.9 542.30 L674.4 542.30 L674.9 542.30 L675.4 542.30 L675.9 542.30 L676.4 542.30 L676.9 542.30 L677.4 542.30 L677.9 542.30 L678.4 542.30 L678.9 542.30 L679.4 542.30 L679.9 542.30 L680.4 542.30 L680.9 542.30 L681.4 542.30 L681.9 542.30 L682.4 542.30 L682.9 542.30 L683.4 542.30 L683.9 542.30 L684.4 542.30 L684.9 542.30 L685.4 542.30 L685.9 542.30 L686.4 542.30 L686.9 542.30 L687.4 542.30 L687.9 542.30 L688.4 542.30 L688.9 542.30 L689.4 542.30 L689.9 542.30 L690.4 542.30 L690.9 542.30 L691.4 542.30 L691.9 542.30 L692.4 542.30 L692.9 542.30 L693.4 542.30 L693.9 542.30 L694.4 542.30 L694.9 542.30 L695.4 542.30 L695.9 542.30 L696.4 542.30 L696.9 542.30 L697.4 542.30 L697.9 542.30 L698.4 542.30 L698.9 542.30 L699.4 542.30 L699.9 542.30 L700.4 542.30 L700.9 542.30 L701.4 542.30 L701.9 542.30 L702.4 542.30 L702.9 542.30 L703.4 542.30 L703.9 542.30 L704.4 542.30 L704.9 542.30 L705.4 542.30 L705.9 542.30 L706.4 542.30 L706.9 542.30 L707.4 542.30 L707.9 542.30 L708.4 542.30 L708.9 542.30 L709.4 542.30 L709.9 542.30 L710.4 542.30 L710.9 542.30 L711.4 542.30 L711.9 542.30 L712.4 542.30 L712.9 542.30 L713.4 542.30 L713.9 542.30 L714.4 542.30 L714.9 542.30 L715.4 542.30 L715.9 542.30 L716.4 542.30 L716.9 542.30 L717.4 542.30 L717.9 542.30 L718.4 542.30 L718.9 542.30 L719.4 542.30 L719.9 542.30 L720.4 542.30 L720.9 542.30 L721.4 542.30 L721.9 542.30 L722.4 542.30 L722.9 542.30 L723.4 542.30 L723.9 542.30 L724.4 542.30 L724.9 542.30 L725.4 542.30 L725.9 542.30 L726.4 542.30 L726.9 542.30 L727.4 542.30 L727.9 542.30 L728.4 542.30 L728.9 542.30 L729.4 542.30 L729.9 542.30 L730.4 542.30 L730.9 542.30 L731.4 542.30 L731.9 542.30 L732.4 542.30 L732.9 542.30 L733.4 542.30 L733.9 542.30 L734.4 542.30 L734.9 542.30 L735.4 542.30 L735.9 542.30 L736.4 542.30 L736.9 542.30 L737.4 542.30 L737.9 542.30 L738.4 542.30 L738.9 542.30 L739.4 542.30 L739.9 542.30 L740.4 542.30 L740.9 542.30 L741.4 542.30 L741.9 542.30 L742.4 542.30 L742.9 542.30 L743.4 542.30 L743.9 542.30 L744.4 542.30 L744.9 542.30 L745.4 542.30 L745.9 542.30 L746.4 542.30 L746.9 542.30 L747.4 542.30 L747.9 542.30 L748.4 542.30 L748.9 542.30 L749.4 542.30 L749.9 542.30 L750.4 542.30 L750.9 542.30 L751.4 542.30 L751.9 542.30 L752.4 542.30 L752.9 542.30 L753.4 542.30 L753.9 542.30 L754.4 542.30 L754.9 542.30 L755.4 542.30 L755.9 542.30 L756.4 542.30 L756.9 542.30" fill="none" stroke="#7a7a7a" stroke-width="1.18"/>
<path d="M101.38 542.30H755.82" stroke="#cfcfcf" stroke-width="3.22" stroke-opacity="0.85"/>
<path d="M372.10 543.38L369.74 548.11H374.47Z" fill="#d8d8d8" stroke="#808080" stroke-width="0.97" stroke-linejoin="round"/>
<path d="M438.50 543.38L436.13 548.11H440.87Z" fill="#d8d8d8" stroke="#808080" stroke-width="0.97" stroke-linejoin="round"/>
<path d="M471.40 543.38L469.03 548.11H473.76Z" fill="#d8d8d8" stroke="#808080" stroke-width="0.97" stroke-linejoin="round"/>
<path d="M511.10 543.38L508.74 548.11H513.47Z" fill="#d8d8d8" stroke="#808080" stroke-width="0.97" stroke-linejoin="round"/>
<text transform="translate(393.71,443.40) rotate(-90)" font-size="14.30" textLength="117.80" lengthAdjust="spacingAndGlyphs" fill="#222" stroke="#222" stroke-width="0.48">Metformin - 2.221</text>
<text transform="translate(489.41,535.90) rotate(-90)" font-size="14.30" textLength="119.00" lengthAdjust="spacingAndGlyphs" fill="#222" stroke="#222" stroke-width="0.48">Linagliptin - 2.951</text>
<path d="M102.48 852.35H106.20M100.36 844.70H106.20M102.48 837.05H106.20M102.48 829.40H106.20M102.48 821.75H106.20M100.36 814.10H106.20M102.48 806.45H106.20M102.48 798.80H106.20M102.48 791.15H106.20M100.36 783.50H106.20M102.48 775.85H106.20M102.48 768.20H106.20M102.48 760.55H106.20M100.36 752.90H106.20M102.48 745.25H106.20M102.48 737.60H106.20M102.48 729.95H106.20M100.36 722.30H106.20M102.48 714.65H106.20M102.48 707.00H106.20M102.48 699.35H106.20M100.36 691.70H106.20M102.48 684.05H106.20M102.48 676.40H106.20M102.48 668.75H106.20M100.36 661.10H106.20M102.48 653.45H106.20M102.48 645.80H106.20M102.48 638.15H106.20M100.36 630.50H106.20M102.48 622.85H106.20M114.84 855.30V859.02M127.88 855.30V859.02M140.92 855.30V859.02M153.96 855.30V859.02M167.00 855.30V861.14M180.04 855.30V859.02M193.08 855.30V859.02M206.12 855.30V859.02M219.16 855.30V859.02M232.20 855.30V861.14M245.24 855.30V859.02M258.28 855.30V859.02M271.32 855.30V859.02M284.36 855.30V859.02M297.40 855.30V861.14M310.44 855.30V859.02M323.48 855.30V859.02M336.52 855.30V859.02M349.56 855.30V859.02M362.60 855.30V861.14M375.64 855.30V859.02M388.68 855.30V859.02M401.72 855.30V859.02M414.76 855.30V859.02M427.80 855.30V861.14M440.84 855.30V859.02M453.88 855.30V859.02M466.92 855.30V859.02M479.96 855.30V859.02M493.00 855.30V861.14M506.04 855.30V859.02M519.08 855.30V859.02M532.12 855.30V859.02M545.16 855.30V859.02M558.20 855.30V861.14M571.24 855.30V859.02M584.28 855.30V859.02M597.32 855.30V859.02M610.36 855.30V859.02M623.40 855.30V861.14M636.44 855.30V859.02M649.48 855.30V859.02M662.52 855.30V859.02M675.56 855.30V859.02M688.60 855.30V861.14M701.64 855.30V859.02M714.68 855.30V859.02M727.72 855.30V859.02M740.76 855.30V859.02M753.80 855.30V861.14" stroke="#8c8c8c" stroke-width="1.38" fill="none"/>
<path d="M106.20 855.30V617.30H754.30V855.30Z" fill="none" stroke="#a2a2a2" stroke-width="2.12"/>
<g font-size="12.21" fill="#333" stroke="#333" stroke-width="0.45"><text transform="translate(101.00,850.86) scale(0.97,1.12)" text-anchor="end">0.00</text><text transform="translate(101.00,820.26) scale(0.97,1.12)" text-anchor="end">0.20</text><text transform="translate(101.00,789.66) scale(0.97,1.12)" text-anchor="end">0.40</text><text transform="translate(101.00,759.06) scale(0.97,1.12)" text-anchor="end">0.60</text><text transform="translate(101.00,728.46) scale(0.97,1.12)" text-anchor="end">0.80</text><text transform="translate(101.00,697.86) scale(0.97,1.12)" text-anchor="end">1.00</text><text transform="translate(101.00,667.26) scale(0.97,1.12)" text-anchor="end">1.20</text><text transform="translate(101.00,636.66) scale(0.97,1.12)" text-anchor="end">1.40</text><text transform="translate(167.53,874.63) scale(0.97,1.12)" text-anchor="middle">0.50</text><text transform="translate(232.73,874.63) scale(0.97,1.12)" text-anchor="middle">1.00</text><text transform="translate(297.93,874.63) scale(0.97,1.12)" text-anchor="middle">1.50</text><text transform="translate(363.13,874.63) scale(0.97,1.12)" text-anchor="middle">2.00</text><text transform="translate(428.33,874.63) scale(0.97,1.12)" text-anchor="middle">2.50</text><text transform="translate(493.53,874.63) scale(0.97,1.12)" text-anchor="middle">3.00</text><text transform="translate(558.73,874.63) scale(0.97,1.12)" text-anchor="middle">3.50</text><text transform="translate(623.93,874.63) scale(0.97,1.12)" text-anchor="middle">4.00</text><text transform="translate(689.13,874.63) scale(0.97,1.12)" text-anchor="middle">4.50</text><text transform="translate(754.33,874.63) scale(0.97,1.12)" text-anchor="middle">5.00</text><text transform="translate(67.02,735.40) rotate(-90) scale(1,1.12)" text-anchor="middle" font-size="11.47">AU</text><text transform="translate(429.90,892.24) scale(1,1.12)" text-anchor="middle" font-size="11.47">Minutes</text></g>
<path d="M106.2 844.70 L106.7 844.70 L107.2 844.70 L107.7 844.70 L108.2 844.70 L108.7 844.70 L109.2 844.70 L109.7 844.70 L110.2 844.70 L110.7 844.70 L111.2 844.70 L111.7 844.70 L112.2 844.70 L112.7 844.70 L113.2 844.70 L113.7 844.70 L114.2 844.70 L114.7 844.70 L115.2 844.70 L115.7 844.70 L116.2 844.70 L116.7 844.70 L117.2 844.70 L117.7 844.70 L118.2 844.70 L118.7 844.70 L119.2 844.70 L119.7 844.70 L120.2 844.70 L120.7 844.70 L121.2 844.70 L121.7 844.70 L122.2 844.70 L122.7 844.70 L123.2 844.70 L123.7 844.70 L124.2 844.70 L124.7 844.70 L125.2 844.70 L125.7 844.70 L126.2 844.70 L126.7 844.70 L127.2 844.70 L127.7 844.70 L128.2 844.70 L128.7 844.70 L129.2 844.70 L129.7 844.70 L130.2 844.70 L130.7 844.70 L131.2 844.70 L131.7 844.70 L132.2 844.70 L132.7 844.70 L133.2 844.70 L133.7 844.70 L134.2 844.70 L134.7 844.70 L135.2 844.70 L135.7 844.70 L136.2 844.70 L136.7 844.70 L137.2 844.70 L137.7 844.70 L138.2 844.70 L138.7 844.70 L139.2 844.70 L139.7 844.70 L140.2 844.70 L140.7 844.70 L141.2 844.70 L141.7 844.70 L142.2 844.70 L142.7 844.70 L143.2 844.70 L143.7 844.70 L144.2 844.70 L144.7 844.70 L145.2 844.70 L145.7 844.70 L146.2 844.70 L146.7 844.70 L147.2 844.70 L147.7 844.70 L148.2 844.70 L148.7 844.70 L149.2 844.70 L149.7 844.70 L150.2 844.70 L150.7 844.70 L151.2 844.70 L151.7 844.70 L152.2 844.70 L152.7 844.70 L153.2 844.70 L153.7 844.70 L154.2 844.70 L154.7 844.70 L155.2 844.70 L155.7 844.70 L156.2 844.70 L156.7 844.70 L157.2 844.70 L157.7 844.70 L158.2 844.70 L158.7 844.70 L159.2 844.70 L159.7 844.70 L160.2 844.70 L160.7 844.70 L161.2 844.70 L161.7 844.70 L162.2 844.70 L162.7 844.70 L163.2 844.70 L163.7 844.70 L164.2 844.70 L164.7 844.70 L165.2 844.70 L165.7 844.70 L166.2 844.70 L166.7 844.70 L167.2 844.70 L167.7 844.70 L168.2 844.70 L168.7 844.70 L169.2 844.70 L169.7 844.70 L170.2 844.70 L170.7 844.70 L171.2 844.70 L171.7 844.70 L172.2 844.70 L172.7 844.70 L173.2 844.70 L173.7 844.70 L174.2 844.70 L174.7 844.70 L175.2 844.70 L175.7 844.70 L176.2 844.70 L176.7 844.70 L177.2 844.70 L177.7 844.70 L178.2 844.70 L178.7 844.70 L179.2 844.70 L179.7 844.70 L180.2 844.70 L180.7 844.70 L181.2 844.70 L181.7 844.70 L182.2 844.70 L182.7 844.70 L183.2 844.70 L183.7 844.70 L184.2 844.70 L184.7 844.70 L185.2 844.70 L185.7 844.70 L186.2 844.70 L186.7 844.70 L187.2 844.70 L187.7 844.70 L188.2 844.70 L188.7 844.70 L189.2 844.70 L189.7 844.70 L190.2 844.70 L190.7 844.70 L191.2 844.70 L191.7 844.70 L192.2 844.70 L192.7 844.70 L193.2 844.70 L193.7 844.70 L194.2 844.70 L194.7 844.70 L195.2 844.70 L195.7 844.70 L196.2 844.70 L196.7 844.70 L197.2 844.70 L197.7 844.70 L198.2 844.70 L198.7 844.70 L199.2 844.70 L199.7 844.70 L200.2 844.70 L200.7 844.70 L201.2 844.70 L201.7 844.70 L202.2 844.70 L202.7 844.70 L203.2 844.70 L203.7 844.70 L204.2 844.70 L204.7 844.70 L205.2 844.70 L205.7 844.70 L206.2 844.70 L206.7 844.70 L207.2 844.70 L207.7 844.70 L208.2 844.70 L208.7 844.70 L209.2 844.70 L209.7 844.70 L210.2 844.70 L210.7 844.70 L211.2 844.70 L211.7 844.70 L212.2 844.70 L212.7 844.70 L213.2 844.70 L213.7 844.70 L214.2 844.70 L214.7 844.70 L215.2 844.70 L215.7 844.70 L216.2 844.70 L216.7 844.70 L217.2 844.70 L217.7 844.70 L218.2 844.70 L218.7 844.70 L219.2 844.70 L219.7 844.70 L220.2 844.70 L220.7 844.70 L221.2 844.70 L221.7 844.70 L222.2 844.70 L222.7 844.70 L223.2 844.70 L223.7 844.70 L224.2 844.70 L224.7 844.70 L225.2 844.70 L225.7 844.70 L226.2 844.70 L226.7 844.70 L227.2 844.70 L227.7 844.70 L228.2 844.70 L228.7 844.70 L229.2 844.70 L229.7 844.70 L230.2 844.70 L230.7 844.70 L231.2 844.70 L231.7 844.70 L232.2 844.70 L232.7 844.70 L233.2 844.70 L233.7 844.70 L234.2 844.70 L234.7 844.70 L235.2 844.70 L235.7 844.70 L236.2 844.70 L236.7 844.70 L237.2 844.70 L237.7 844.70 L238.2 844.70 L238.7 844.70 L239.2 844.70 L239.7 844.70 L240.2 844.70 L240.7 844.70 L241.2 844.70 L241.7 844.70 L242.2 844.70 L242.7 844.70 L243.2 844.70 L243.7 844.70 L244.2 844.70 L244.7 844.70 L245.2 844.70 L245.7 844.70 L246.2 844.70 L246.7 844.70 L247.2 844.70 L247.7 844.70 L248.2 844.70 L248.7 844.70 L249.2 844.70 L249.7 844.70 L250.2 844.70 L250.7 844.70 L251.2 844.70 L251.7 844.70 L252.2 844.70 L252.7 844.70 L253.2 844.70 L253.7 844.70 L254.2 844.70 L254.7 844.70 L255.2 844.70 L255.7 844.70 L256.2 844.70 L256.7 844.70 L257.2 844.70 L257.7 844.70 L258.2 844.70 L258.7 844.70 L259.2 844.70 L259.7 844.70 L260.2 844.70 L260.7 844.70 L261.2 844.70 L261.7 844.70 L262.2 844.70 L262.7 844.70 L263.2 844.70 L263.7 844.70 L264.2 844.70 L264.7 844.70 L265.2 844.70 L265.7 844.70 L266.2 844.70 L266.7 844.70 L267.2 844.70 L267.7 844.70 L268.2 844.70 L268.7 844.70 L269.2 844.70 L269.7 844.70 L270.2 844.70 L270.7 844.70 L271.2 844.70 L271.7 844.70 L272.2 844.70 L272.7 844.70 L273.2 844.70 L273.7 844.70 L274.2 844.70 L274.7 844.70 L275.2 844.70 L275.7 844.70 L276.2 844.70 L276.7 844.70 L277.2 844.70 L277.7 844.70 L278.2 844.70 L278.7 844.70 L279.2 844.70 L279.7 844.70 L280.2 844.70 L280.7 844.70 L281.2 844.70 L281.7 844.70 L282.2 844.70 L282.7 844.70 L283.2 844.70 L283.7 844.70 L284.2 844.70 L284.7 844.70 L285.2 844.70 L285.7 844.70 L286.2 844.70 L286.7 844.70 L287.2 844.70 L287.7 844.70 L288.2 844.70 L288.7 844.70 L289.2 844.70 L289.7 844.70 L290.2 844.70 L290.7 844.70 L291.2 844.70 L291.7 844.70 L292.2 844.70 L292.7 844.70 L293.2 844.70 L293.7 844.70 L294.2 844.70 L294.7 844.70 L295.2 844.70 L295.7 844.70 L296.2 844.70 L296.7 844.70 L297.2 844.70 L297.7 844.70 L298.2 844.70 L298.7 844.70 L299.2 844.70 L299.7 844.70 L300.2 844.70 L300.7 844.70 L301.2 844.70 L301.7 844.70 L302.2 844.70 L302.7 844.70 L303.2 844.70 L303.7 844.70 L304.2 844.70 L304.7 844.70 L305.2 844.70 L305.7 844.70 L306.2 844.70 L306.7 844.70 L307.2 844.70 L307.7 844.70 L308.2 844.70 L308.7 844.70 L309.2 844.70 L309.7 844.70 L310.2 844.70 L310.7 844.70 L311.2 844.70 L311.7 844.70 L312.2 844.70 L312.7 844.70 L313.2 844.70 L313.7 844.70 L314.2 844.70 L314.7 844.70 L315.2 844.70 L315.7 844.70 L316.2 844.70 L316.7 844.70 L317.2 844.70 L317.7 844.70 L318.2 844.70 L318.7 844.70 L319.2 844.70 L319.7 844.70 L320.2 844.70 L320.7 844.70 L321.2 844.70 L321.7 844.70 L322.2 844.70 L322.7 844.70 L323.2 844.70 L323.7 844.70 L324.2 844.70 L324.7 844.70 L325.2 844.70 L325.7 844.70 L326.2 844.70 L326.7 844.70 L327.2 844.70 L327.7 844.70 L328.2 844.70 L328.7 844.70 L329.2 844.70 L329.7 844.70 L330.2 844.70 L330.7 844.70 L331.2 844.70 L331.7 844.70 L332.2 844.70 L332.7 844.70 L333.2 844.70 L333.7 844.70 L334.2 844.70 L334.7 844.70 L335.2 844.70 L335.7 844.70 L336.2 844.70 L336.7 844.70 L337.2 844.70 L337.7 844.70 L338.2 844.70 L338.7 844.70 L339.2 844.70 L339.7 844.70 L340.2 844.70 L340.7 844.70 L341.2 844.70 L341.7 844.70 L342.2 844.70 L342.7 844.70 L343.2 844.70 L343.7 844.70 L344.2 844.70 L344.7 844.70 L345.2 844.70 L345.7 844.70 L346.2 844.70 L346.7 844.70 L347.2 844.70 L347.7 844.70 L348.2 844.70 L348.7 844.70 L349.2 844.70 L349.7 844.70 L350.2 844.70 L350.7 844.70 L351.2 844.70 L351.7 844.70 L352.2 844.70 L352.7 844.70 L353.2 844.70 L353.7 844.70 L354.2 844.70 L354.7 844.70 L355.2 844.70 L355.7 844.70 L356.2 844.70 L356.7 844.70 L357.2 844.70 L357.7 844.70 L358.2 844.70 L358.7 844.70 L359.2 844.70 L359.7 844.70 L360.2 844.70 L360.7 844.70 L361.2 844.70 L361.7 844.70 L362.2 844.70 L362.7 844.70 L363.2 844.70 L363.7 844.70 L364.2 844.70 L364.7 844.70 L365.2 844.70 L365.7 844.70 L366.2 844.70 L366.7 844.70 L367.2 844.70 L367.7 844.70 L368.2 844.70 L368.7 844.70 L369.2 844.70 L369.7 844.70 L370.2 844.70 L370.7 844.70 L371.2 844.70 L371.7 844.70 L372.2 844.70 L372.7 844.70 L373.2 844.70 L373.7 844.70 L374.2 844.70 L374.7 844.70 L375.2 844.69 L375.7 844.69 L376.2 844.67 L376.7 844.65 L377.2 844.61 L377.7 844.53 L378.2 844.40 L378.7 844.19 L379.2 843.86 L379.7 843.35 L380.2 842.57 L380.7 841.43 L381.2 839.80 L381.7 837.53 L382.2 834.46 L382.7 830.40 L383.2 825.19 L383.7 818.67 L384.2 810.71 L384.7 801.24 L385.2 790.25 L385.7 777.84 L386.2 764.18 L386.7 749.53 L387.2 734.23 L387.7 718.68 L388.2 703.34 L388.7 688.64 L389.2 675.02 L389.7 662.85 L390.2 652.42 L390.7 643.93 L391.2 637.45 L391.7 632.96 L392.2 630.28 L392.7 629.13 L393.2 629.00 L393.7 630.09 L394.2 633.15 L394.7 638.41 L395.2 645.84 L395.7 655.25 L396.2 666.30 L396.7 678.57 L397.2 691.59 L397.7 704.89 L398.2 718.02 L398.7 730.64 L399.2 742.50 L399.7 753.47 L400.2 763.54 L400.7 772.74 L401.2 781.13 L401.7 788.78 L402.2 795.73 L402.7 801.96 L403.2 807.47 L403.7 812.26 L404.2 816.34 L404.7 819.77 L405.2 822.63 L405.7 825.01 L406.2 827.01 L406.7 828.71 L407.2 830.18 L407.7 831.46 L408.2 832.59 L408.7 833.60 L409.2 834.52 L409.7 835.35 L410.2 836.11 L410.7 836.80 L411.2 837.44 L411.7 838.02 L412.2 838.56 L412.7 839.05 L413.2 839.51 L413.7 839.92 L414.2 840.31 L414.7 840.66 L415.2 840.99 L415.7 841.28 L416.2 841.56 L416.7 841.81 L417.2 842.04 L417.7 842.26 L418.2 842.45 L418.7 842.63 L419.2 842.80 L419.7 842.95 L420.2 843.09 L420.7 843.22 L421.2 843.34 L421.7 843.45 L422.2 843.55 L422.7 843.64 L423.2 843.73 L423.7 843.81 L424.2 843.88 L424.7 843.94 L425.2 844.00 L425.7 844.06 L426.2 844.11 L426.7 844.16 L427.2 844.20 L427.7 844.24 L428.2 844.28 L428.7 844.31 L429.2 844.34 L429.7 844.37 L430.2 844.40 L430.8 844.42 L431.3 844.45 L431.8 844.47 L432.3 844.48 L432.8 844.50 L433.3 844.52 L433.8 844.53 L434.3 844.55 L434.8 844.56 L435.3 844.57 L435.8 844.58 L436.3 844.59 L436.8 844.60 L437.3 844.61 L437.8 844.61 L438.3 844.62 L438.8 844.63 L439.3 844.63 L439.8 844.64 L440.3 844.64 L440.8 844.65 L441.3 844.65 L441.8 844.66 L442.3 844.66 L442.8 844.66 L443.3 844.67 L443.8 844.67 L444.3 844.67 L444.8 844.67 L445.3 844.68 L445.8 844.68 L446.3 844.68 L446.8 844.68 L447.3 844.68 L447.8 844.68 L448.3 844.69 L448.8 844.69 L449.3 844.69 L449.8 844.69 L450.3 844.69 L450.8 844.69 L451.3 844.69 L451.8 844.69 L452.3 844.69 L452.8 844.69 L453.3 844.69 L453.8 844.69 L454.3 844.69 L454.8 844.70 L455.3 844.70 L455.8 844.70 L456.3 844.70 L456.8 844.70 L457.3 844.70 L457.8 844.70 L458.3 844.70 L458.8 844.70 L459.3 844.70 L459.8 844.70 L460.3 844.70 L460.8 844.70 L461.3 844.70 L461.8 844.70 L462.3 844.70 L462.8 844.70 L463.3 844.70 L463.8 844.70 L464.3 844.70 L464.8 844.70 L465.3 844.70 L465.8 844.70 L466.3 844.70 L466.8 844.70 L467.3 844.69 L467.8 844.69 L468.3 844.69 L468.8 844.69 L469.3 844.68 L469.8 844.68 L470.3 844.67 L470.8 844.67 L471.3 844.66 L471.8 844.64 L472.3 844.63 L472.8 844.61 L473.3 844.58 L473.8 844.56 L474.3 844.52 L474.8 844.48 L475.3 844.43 L475.8 844.38 L476.3 844.31 L476.8 844.24 L477.3 844.15 L477.8 844.05 L478.3 843.95 L478.8 843.83 L479.3 843.69 L479.8 843.55 L480.3 843.39 L480.8 843.23 L481.3 843.06 L481.8 842.87 L482.3 842.69 L482.8 842.50 L483.3 842.31 L483.8 842.12 L484.3 841.94 L484.8 841.77 L485.3 841.61 L485.8 841.46 L486.3 841.33 L486.8 841.22 L487.3 841.14 L487.8 841.07 L488.3 841.04 L488.8 841.03 L489.3 841.04 L489.8 841.07 L490.3 841.11 L490.8 841.18 L491.3 841.26 L491.8 841.35 L492.3 841.45 L492.8 841.57 L493.3 841.70 L493.8 841.84 L494.3 841.98 L494.8 842.13 L495.3 842.28 L495.8 842.44 L496.3 842.59 L496.8 842.75 L497.3 842.90 L497.8 843.05 L498.3 843.19 L498.8 843.33 L499.3 843.46 L499.8 843.58 L500.3 843.70 L500.8 843.81 L501.3 843.91 L501.8 844.00 L502.3 844.09 L502.8 844.16 L503.3 844.23 L503.8 844.30 L504.3 844.35 L504.8 844.40 L505.3 844.44 L505.8 844.48 L506.3 844.52 L506.8 844.55 L507.3 844.57 L507.8 844.59 L508.3 844.61 L508.8 844.63 L509.3 844.64 L509.8 844.65 L510.3 844.66 L510.8 844.67 L511.3 844.67 L511.8 844.68 L512.3 844.68 L512.8 844.69 L513.3 844.69 L513.8 844.69 L514.3 844.69 L514.8 844.70 L515.3 844.70 L515.8 844.70 L516.3 844.70 L516.8 844.70 L517.3 844.70 L517.8 844.70 L518.3 844.70 L518.8 844.70 L519.3 844.70 L519.8 844.70 L520.3 844.70 L520.8 844.70 L521.3 844.70 L521.8 844.70 L522.3 844.70 L522.8 844.70 L523.3 844.70 L523.8 844.70 L524.3 844.70 L524.8 844.70 L525.3 844.70 L525.8 844.70 L526.3 844.70 L526.8 844.70 L527.3 844.70 L527.8 844.70 L528.3 844.70 L528.8 844.70 L529.3 844.70 L529.8 844.70 L530.3 844.70 L530.8 844.70 L531.3 844.70 L531.8 844.70 L532.3 844.70 L532.8 844.70 L533.3 844.70 L533.8 844.70 L534.3 844.70 L534.8 844.70 L535.3 844.70 L535.8 844.70 L536.3 844.70 L536.8 844.70 L537.3 844.70 L537.8 844.70 L538.3 844.70 L538.8 844.70 L539.3 844.70 L539.8 844.70 L540.3 844.70 L540.8 844.70 L541.3 844.70 L541.8 844.70 L542.3 844.70 L542.8 844.70 L543.3 844.70 L543.8 844.70 L544.3 844.70 L544.8 844.70 L545.3 844.70 L545.8 844.70 L546.3 844.70 L546.8 844.70 L547.3 844.70 L547.8 844.70 L548.3 844.70 L548.8 844.70 L549.3 844.70 L549.8 844.70 L550.3 844.70 L550.8 844.70 L551.3 844.70 L551.8 844.70 L552.3 844.70 L552.8 844.70 L553.3 844.70 L553.8 844.70 L554.3 844.70 L554.8 844.70 L555.3 844.70 L555.8 844.70 L556.3 844.70 L556.8 844.70 L557.3 844.70 L557.8 844.70 L558.3 844.70 L558.8 844.70 L559.3 844.70 L559.8 844.70 L560.3 844.70 L560.8 844.70 L561.3 844.70 L561.8 844.70 L562.3 844.70 L562.8 844.70 L563.3 844.70 L563.8 844.70 L564.3 844.70 L564.8 844.70 L565.3 844.70 L565.8 844.70 L566.3 844.70 L566.8 844.70 L567.3 844.70 L567.8 844.70 L568.3 844.70 L568.8 844.70 L569.3 844.70 L569.8 844.70 L570.3 844.70 L570.8 844.70 L571.3 844.70 L571.8 844.70 L572.3 844.70 L572.8 844.70 L573.3 844.70 L573.8 844.70 L574.3 844.70 L574.8 844.70 L575.3 844.70 L575.8 844.70 L576.3 844.70 L576.8 844.70 L577.3 844.70 L577.8 844.70 L578.3 844.70 L578.8 844.70 L579.3 844.70 L579.8 844.70 L580.3 844.70 L580.8 844.70 L581.3 844.70 L581.8 844.70 L582.3 844.70 L582.8 844.70 L583.3 844.70 L583.8 844.70 L584.3 844.70 L584.8 844.70 L585.3 844.70 L585.8 844.70 L586.3 844.70 L586.8 844.70 L587.3 844.70 L587.8 844.70 L588.3 844.70 L588.8 844.70 L589.3 844.70 L589.8 844.70 L590.3 844.70 L590.8 844.70 L591.3 844.70 L591.8 844.70 L592.3 844.70 L592.8 844.70 L593.3 844.70 L593.8 844.70 L594.3 844.70 L594.8 844.70 L595.3 844.70 L595.8 844.70 L596.3 844.70 L596.8 844.70 L597.3 844.70 L597.8 844.70 L598.3 844.70 L598.8 844.70 L599.3 844.70 L599.8 844.70 L600.3 844.70 L600.8 844.70 L601.3 844.70 L601.8 844.70 L602.3 844.70 L602.8 844.70 L603.3 844.70 L603.8 844.70 L604.3 844.70 L604.8 844.70 L605.3 844.70 L605.8 844.70 L606.3 844.70 L606.8 844.70 L607.3 844.70 L607.8 844.70 L608.3 844.70 L608.8 844.70 L609.3 844.70 L609.8 844.70 L610.3 844.70 L610.8 844.70 L611.3 844.70 L611.8 844.70 L612.3 844.70 L612.8 844.70 L613.3 844.70 L613.8 844.70 L614.3 844.70 L614.8 844.70 L615.3 844.70 L615.8 844.70 L616.3 844.70 L616.8 844.70 L617.3 844.70 L617.8 844.70 L618.3 844.70 L618.8 844.70 L619.3 844.70 L619.8 844.70 L620.3 844.70 L620.8 844.70 L621.3 844.70 L621.8 844.70 L622.3 844.70 L622.8 844.70 L623.3 844.70 L623.8 844.70 L624.3 844.70 L624.8 844.70 L625.3 844.70 L625.8 844.70 L626.3 844.70 L626.8 844.70 L627.3 844.70 L627.8 844.70 L628.3 844.70 L628.8 844.70 L629.3 844.70 L629.8 844.70 L630.3 844.70 L630.8 844.70 L631.3 844.70 L631.8 844.70 L632.3 844.70 L632.8 844.70 L633.3 844.70 L633.8 844.70 L634.3 844.70 L634.8 844.70 L635.3 844.70 L635.8 844.70 L636.3 844.70 L636.8 844.70 L637.3 844.70 L637.8 844.70 L638.3 844.70 L638.8 844.70 L639.3 844.70 L639.8 844.70 L640.3 844.70 L640.8 844.70 L641.3 844.70 L641.8 844.70 L642.3 844.70 L642.8 844.70 L643.3 844.70 L643.8 844.70 L644.3 844.70 L644.8 844.70 L645.3 844.70 L645.8 844.70 L646.3 844.70 L646.8 844.70 L647.3 844.70 L647.8 844.70 L648.3 844.70 L648.8 844.70 L649.3 844.70 L649.8 844.70 L650.3 844.70 L650.8 844.70 L651.3 844.70 L651.8 844.70 L652.3 844.70 L652.8 844.70 L653.3 844.70 L653.8 844.70 L654.3 844.70 L654.8 844.70 L655.3 844.70 L655.8 844.70 L656.3 844.70 L656.8 844.70 L657.3 844.70 L657.8 844.70 L658.3 844.70 L658.8 844.70 L659.3 844.70 L659.8 844.70 L660.3 844.70 L660.8 844.70 L661.3 844.70 L661.8 844.70 L662.3 844.70 L662.8 844.70 L663.3 844.70 L663.8 844.70 L664.3 844.70 L664.8 844.70 L665.3 844.70 L665.8 844.70 L666.3 844.70 L666.8 844.70 L667.3 844.70 L667.8 844.70 L668.3 844.70 L668.8 844.70 L669.3 844.70 L669.8 844.70 L670.3 844.70 L670.8 844.70 L671.3 844.70 L671.8 844.70 L672.3 844.70 L672.8 844.70 L673.3 844.70 L673.8 844.70 L674.3 844.70 L674.8 844.70 L675.3 844.70 L675.8 844.70 L676.3 844.70 L676.8 844.70 L677.3 844.70 L677.8 844.70 L678.3 844.70 L678.8 844.70 L679.3 844.70 L679.8 844.70 L680.3 844.70 L680.8 844.70 L681.3 844.70 L681.8 844.70 L682.3 844.70 L682.8 844.70 L683.3 844.70 L683.8 844.70 L684.3 844.70 L684.8 844.70 L685.3 844.70 L685.8 844.70 L686.3 844.70 L686.8 844.70 L687.3 844.70 L687.8 844.70 L688.3 844.70 L688.8 844.70 L689.3 844.70 L689.8 844.70 L690.3 844.70 L690.8 844.70 L691.3 844.70 L691.8 844.70 L692.3 844.70 L692.8 844.70 L693.3 844.70 L693.8 844.70 L694.3 844.70 L694.8 844.70 L695.3 844.70 L695.8 844.70 L696.3 844.70 L696.8 844.70 L697.3 844.70 L697.8 844.70 L698.3 844.70 L698.8 844.70 L699.3 844.70 L699.8 844.70 L700.3 844.70 L700.8 844.70 L701.3 844.70 L701.8 844.70 L702.3 844.70 L702.8 844.70 L703.3 844.70 L703.8 844.70 L704.3 844.70 L704.8 844.70 L705.3 844.70 L705.8 844.70 L706.3 844.70 L706.8 844.70 L707.3 844.70 L707.8 844.70 L708.3 844.70 L708.8 844.70 L709.3 844.70 L709.8 844.70 L710.3 844.70 L710.8 844.70 L711.3 844.70 L711.8 844.70 L712.3 844.70 L712.8 844.70 L713.3 844.70 L713.8 844.70 L714.3 844.70 L714.8 844.70 L715.3 844.70 L715.8 844.70 L716.3 844.70 L716.8 844.70 L717.3 844.70 L717.8 844.70 L718.3 844.70 L718.8 844.70 L719.3 844.70 L719.8 844.70 L720.3 844.70 L720.8 844.70 L721.3 844.70 L721.8 844.70 L722.3 844.70 L722.8 844.70 L723.3 844.70 L723.8 844.70 L724.3 844.70 L724.8 844.70 L725.3 844.70 L725.8 844.70 L726.3 844.70 L726.8 844.70 L727.3 844.70 L727.8 844.70 L728.3 844.70 L728.8 844.70 L729.3 844.70 L729.8 844.70 L730.3 844.70 L730.8 844.70 L731.3 844.70 L731.8 844.70 L732.3 844.70 L732.8 844.70 L733.3 844.70 L733.8 844.70 L734.3 844.70 L734.8 844.70 L735.3 844.70 L735.8 844.70 L736.3 844.70 L736.8 844.70 L737.3 844.70 L737.8 844.70 L738.3 844.70 L738.8 844.70 L739.3 844.70 L739.8 844.70 L740.3 844.70 L740.8 844.70 L741.3 844.70 L741.8 844.70 L742.3 844.70 L742.8 844.70 L743.3 844.70 L743.8 844.70 L744.3 844.70 L744.8 844.70 L745.3 844.70 L745.8 844.70 L746.3 844.70 L746.8 844.70 L747.3 844.70 L747.8 844.70 L748.3 844.70 L748.8 844.70 L749.3 844.70 L749.8 844.70 L750.3 844.70 L750.8 844.70 L751.3 844.70 L751.8 844.70 L752.3 844.70 L752.8 844.70 L753.3 844.70 L753.8 844.70 L754.3 844.70" fill="none" stroke="#7a7a7a" stroke-width="1.17"/>
<path d="M107.26 844.70H753.24" stroke="#cfcfcf" stroke-width="3.19" stroke-opacity="0.85"/>
<path d="M376.10 845.76L373.76 850.43H378.44Z" fill="#d8d8d8" stroke="#808080" stroke-width="0.96" stroke-linejoin="round"/>
<path d="M437.70 845.76L435.36 850.43H440.04Z" fill="#d8d8d8" stroke="#808080" stroke-width="0.96" stroke-linejoin="round"/>
<path d="M474.00 845.76L471.66 850.43H476.34Z" fill="#d8d8d8" stroke="#808080" stroke-width="0.96" stroke-linejoin="round"/>
<path d="M507.30 845.76L504.96 850.43H509.64Z" fill="#d8d8d8" stroke="#808080" stroke-width="0.96" stroke-linejoin="round"/>
<text transform="translate(397.94,746.60) rotate(-90)" font-size="14.10" textLength="67.80" lengthAdjust="spacingAndGlyphs" fill="#222" stroke="#222" stroke-width="0.48">Metformin</text>
<text transform="translate(397.94,676.90) rotate(-90)" font-size="14.10" textLength="50.60" lengthAdjust="spacingAndGlyphs" fill="#222" stroke="#222" stroke-width="0.48">- 2.234</text>
<text transform="translate(493.14,838.50) rotate(-90)" font-size="14.10" textLength="120.40" lengthAdjust="spacingAndGlyphs" fill="#222" stroke="#222" stroke-width="0.48">Linagliptin - 2.967</text>
</svg>
<div class="cap"><b>Figure 31:</b>  Accuracy 50% Chromatogram of Linagliptin and Metformin.</div>
</body></html>
